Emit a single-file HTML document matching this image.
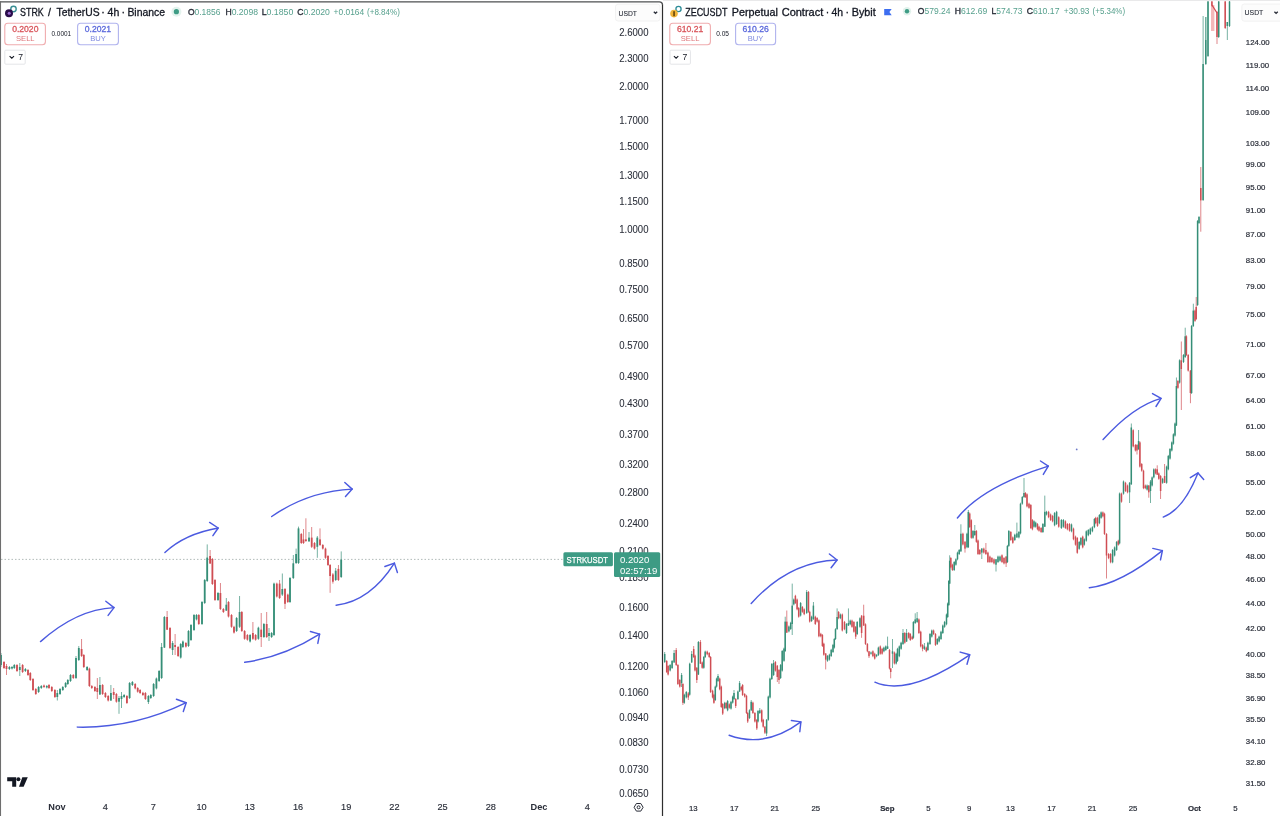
<!DOCTYPE html>
<html><head><meta charset="utf-8">
<title>STRK / ZEC charts</title>
<style>
html,body{margin:0;padding:0;background:#ffffff;width:1280px;height:816px;overflow:hidden;}
svg{position:absolute;left:0;top:0;display:block;}
text{font-family:"Liberation Sans",Arial,sans-serif;}
</style></head><body>
<svg width="1280" height="816" viewBox="0 0 1280 816">
<defs>
<clipPath id="clipL"><rect x="1" y="2" width="612" height="792"/></clipPath>
<clipPath id="clipR"><rect x="663" y="1" width="578" height="795"/></clipPath>
</defs>
<rect x="0" y="0" width="1280" height="816" fill="#ffffff"/>
<!-- right panel top strip -->
<rect x="663" y="0" width="617" height="1" fill="#e9e9ea"/>

<!-- ===== LEFT CHART ===== -->
<!-- last price dotted line -->
<line x1="1" y1="559.4" x2="563" y2="559.4" stroke="#a9b4b1" stroke-width="0.9" stroke-dasharray="1.5 2"/>
<g clip-path="url(#clipL)">
<rect x="0.55" y="653.00" width="0.9" height="14.00" fill="#358e77" opacity="0.75"/>
<rect x="0.10" y="655.00" width="1.8" height="10.00" fill="#358e77"/>
<rect x="3.55" y="661.00" width="0.9" height="8.00" fill="#cf4d53" opacity="0.75"/>
<rect x="3.10" y="662.00" width="1.8" height="6.00" fill="#cf4d53"/>
<rect x="6.05" y="664.00" width="0.9" height="11.00" fill="#cf4d53" opacity="0.75"/>
<rect x="5.60" y="666.00" width="1.8" height="3.00" fill="#cf4d53"/>
<rect x="8.95" y="666.00" width="0.9" height="4.00" fill="#358e77" opacity="0.75"/>
<rect x="8.50" y="667.00" width="1.8" height="2.00" fill="#358e77"/>
<rect x="11.55" y="666.00" width="0.9" height="3.50" fill="#358e77" opacity="0.75"/>
<rect x="11.10" y="667.00" width="1.8" height="1.50" fill="#358e77"/>
<rect x="13.85" y="664.00" width="0.9" height="5.00" fill="#358e77" opacity="0.75"/>
<rect x="13.40" y="665.00" width="1.8" height="3.00" fill="#358e77"/>
<rect x="16.55" y="664.00" width="0.9" height="8.00" fill="#cf4d53" opacity="0.75"/>
<rect x="16.10" y="665.00" width="1.8" height="6.00" fill="#cf4d53"/>
<rect x="19.35" y="663.00" width="0.9" height="13.00" fill="#358e77" opacity="0.75"/>
<rect x="18.90" y="667.00" width="1.8" height="3.00" fill="#358e77"/>
<rect x="22.15" y="664.00" width="0.9" height="9.00" fill="#cf4d53" opacity="0.75"/>
<rect x="21.70" y="665.00" width="1.8" height="7.00" fill="#cf4d53"/>
<rect x="24.95" y="668.00" width="0.9" height="4.00" fill="#358e77" opacity="0.75"/>
<rect x="24.50" y="669.00" width="1.8" height="2.00" fill="#358e77"/>
<rect x="27.55" y="669.00" width="0.9" height="7.00" fill="#cf4d53" opacity="0.75"/>
<rect x="27.10" y="670.00" width="1.8" height="5.00" fill="#cf4d53"/>
<rect x="29.85" y="672.00" width="0.9" height="9.00" fill="#cf4d53" opacity="0.75"/>
<rect x="29.40" y="673.00" width="1.8" height="7.00" fill="#cf4d53"/>
<rect x="32.55" y="678.00" width="0.9" height="13.00" fill="#cf4d53" opacity="0.75"/>
<rect x="32.10" y="679.00" width="1.8" height="11.00" fill="#cf4d53"/>
<rect x="35.35" y="688.00" width="0.9" height="7.00" fill="#cf4d53" opacity="0.75"/>
<rect x="34.90" y="689.00" width="1.8" height="5.00" fill="#cf4d53"/>
<rect x="38.15" y="686.00" width="0.9" height="7.00" fill="#358e77" opacity="0.75"/>
<rect x="37.70" y="687.00" width="1.8" height="5.00" fill="#358e77"/>
<rect x="40.85" y="685.00" width="0.9" height="4.00" fill="#358e77" opacity="0.75"/>
<rect x="40.40" y="686.00" width="1.8" height="2.00" fill="#358e77"/>
<rect x="43.55" y="684.50" width="0.9" height="3.50" fill="#cf4d53" opacity="0.75"/>
<rect x="43.10" y="685.50" width="1.8" height="1.50" fill="#cf4d53"/>
<rect x="46.35" y="685.00" width="0.9" height="3.50" fill="#358e77" opacity="0.75"/>
<rect x="45.90" y="686.00" width="1.8" height="1.50" fill="#358e77"/>
<rect x="48.55" y="684.00" width="0.9" height="5.00" fill="#cf4d53" opacity="0.75"/>
<rect x="48.10" y="685.00" width="1.8" height="3.00" fill="#cf4d53"/>
<rect x="51.35" y="686.00" width="0.9" height="6.00" fill="#cf4d53" opacity="0.75"/>
<rect x="50.90" y="687.00" width="1.8" height="4.00" fill="#cf4d53"/>
<rect x="54.45" y="689.00" width="0.9" height="9.00" fill="#cf4d53" opacity="0.75"/>
<rect x="54.00" y="690.00" width="1.8" height="7.00" fill="#cf4d53"/>
<rect x="56.85" y="690.00" width="0.9" height="10.50" fill="#358e77" opacity="0.75"/>
<rect x="56.40" y="693.00" width="1.8" height="4.00" fill="#358e77"/>
<rect x="59.55" y="688.00" width="0.9" height="7.00" fill="#358e77" opacity="0.75"/>
<rect x="59.10" y="689.00" width="1.8" height="5.00" fill="#358e77"/>
<rect x="62.35" y="686.00" width="0.9" height="5.00" fill="#358e77" opacity="0.75"/>
<rect x="61.90" y="687.00" width="1.8" height="3.00" fill="#358e77"/>
<rect x="65.15" y="682.00" width="0.9" height="6.00" fill="#358e77" opacity="0.75"/>
<rect x="64.70" y="683.00" width="1.8" height="4.00" fill="#358e77"/>
<rect x="67.35" y="679.00" width="0.9" height="6.00" fill="#358e77" opacity="0.75"/>
<rect x="66.90" y="680.00" width="1.8" height="4.00" fill="#358e77"/>
<rect x="70.05" y="674.00" width="0.9" height="8.00" fill="#358e77" opacity="0.75"/>
<rect x="69.60" y="675.00" width="1.8" height="6.00" fill="#358e77"/>
<rect x="72.85" y="674.00" width="0.9" height="5.00" fill="#cf4d53" opacity="0.75"/>
<rect x="72.40" y="675.00" width="1.8" height="3.00" fill="#cf4d53"/>
<rect x="75.55" y="656.00" width="0.9" height="23.00" fill="#358e77" opacity="0.75"/>
<rect x="75.10" y="658.00" width="1.8" height="20.00" fill="#358e77"/>
<rect x="78.35" y="646.00" width="0.9" height="15.00" fill="#358e77" opacity="0.75"/>
<rect x="77.90" y="648.00" width="1.8" height="12.00" fill="#358e77"/>
<rect x="81.15" y="639.00" width="0.9" height="18.00" fill="#cf4d53" opacity="0.75"/>
<rect x="80.70" y="649.00" width="1.8" height="7.00" fill="#cf4d53"/>
<rect x="83.35" y="654.00" width="0.9" height="14.00" fill="#cf4d53" opacity="0.75"/>
<rect x="82.90" y="655.00" width="1.8" height="12.00" fill="#cf4d53"/>
<rect x="86.65" y="666.00" width="0.9" height="5.00" fill="#358e77" opacity="0.75"/>
<rect x="86.20" y="667.00" width="1.8" height="3.00" fill="#358e77"/>
<rect x="88.95" y="667.60" width="0.9" height="19.40" fill="#cf4d53" opacity="0.75"/>
<rect x="88.50" y="668.60" width="1.8" height="17.40" fill="#cf4d53"/>
<rect x="91.35" y="685.00" width="0.9" height="4.00" fill="#cf4d53" opacity="0.75"/>
<rect x="90.90" y="686.00" width="1.8" height="2.00" fill="#cf4d53"/>
<rect x="94.45" y="686.00" width="0.9" height="6.00" fill="#cf4d53" opacity="0.75"/>
<rect x="94.00" y="687.00" width="1.8" height="4.00" fill="#cf4d53"/>
<rect x="96.85" y="678.00" width="0.9" height="21.00" fill="#cf4d53" opacity="0.75"/>
<rect x="96.40" y="688.00" width="1.8" height="4.00" fill="#cf4d53"/>
<rect x="99.45" y="677.00" width="0.9" height="18.00" fill="#358e77" opacity="0.75"/>
<rect x="99.00" y="685.00" width="1.8" height="9.50" fill="#358e77"/>
<rect x="102.15" y="684.00" width="0.9" height="11.00" fill="#cf4d53" opacity="0.75"/>
<rect x="101.70" y="685.00" width="1.8" height="9.00" fill="#cf4d53"/>
<rect x="104.95" y="692.00" width="0.9" height="6.00" fill="#cf4d53" opacity="0.75"/>
<rect x="104.50" y="693.00" width="1.8" height="4.00" fill="#cf4d53"/>
<rect x="107.75" y="695.00" width="0.9" height="6.50" fill="#cf4d53" opacity="0.75"/>
<rect x="107.30" y="696.00" width="1.8" height="4.50" fill="#cf4d53"/>
<rect x="110.45" y="685.00" width="0.9" height="16.00" fill="#358e77" opacity="0.75"/>
<rect x="110.00" y="693.00" width="1.8" height="7.50" fill="#358e77"/>
<rect x="113.25" y="688.00" width="0.9" height="11.00" fill="#cf4d53" opacity="0.75"/>
<rect x="112.80" y="692.00" width="1.8" height="3.00" fill="#cf4d53"/>
<rect x="115.95" y="693.00" width="0.9" height="9.70" fill="#cf4d53" opacity="0.75"/>
<rect x="115.50" y="694.00" width="1.8" height="7.70" fill="#cf4d53"/>
<rect x="118.55" y="696.00" width="0.9" height="17.80" fill="#358e77" opacity="0.75"/>
<rect x="118.10" y="698.00" width="1.8" height="3.70" fill="#358e77"/>
<rect x="121.05" y="692.00" width="0.9" height="16.00" fill="#358e77" opacity="0.75"/>
<rect x="120.60" y="696.00" width="1.8" height="3.00" fill="#358e77"/>
<rect x="123.65" y="694.00" width="0.9" height="4.00" fill="#358e77" opacity="0.75"/>
<rect x="123.20" y="695.00" width="1.8" height="2.00" fill="#358e77"/>
<rect x="126.45" y="695.00" width="0.9" height="9.00" fill="#cf4d53" opacity="0.75"/>
<rect x="126.00" y="696.00" width="1.8" height="7.00" fill="#cf4d53"/>
<rect x="129.15" y="682.00" width="0.9" height="17.00" fill="#358e77" opacity="0.75"/>
<rect x="128.70" y="683.00" width="1.8" height="15.00" fill="#358e77"/>
<rect x="131.95" y="681.00" width="0.9" height="5.00" fill="#358e77" opacity="0.75"/>
<rect x="131.50" y="682.00" width="1.8" height="3.00" fill="#358e77"/>
<rect x="134.75" y="683.00" width="0.9" height="6.40" fill="#cf4d53" opacity="0.75"/>
<rect x="134.30" y="684.00" width="1.8" height="4.40" fill="#cf4d53"/>
<rect x="137.25" y="687.00" width="0.9" height="5.70" fill="#cf4d53" opacity="0.75"/>
<rect x="136.80" y="688.00" width="1.8" height="3.70" fill="#cf4d53"/>
<rect x="139.65" y="689.00" width="0.9" height="5.00" fill="#cf4d53" opacity="0.75"/>
<rect x="139.20" y="690.00" width="1.8" height="3.00" fill="#cf4d53"/>
<rect x="142.45" y="691.80" width="0.9" height="4.20" fill="#cf4d53" opacity="0.75"/>
<rect x="142.00" y="692.80" width="1.8" height="2.20" fill="#cf4d53"/>
<rect x="144.95" y="692.00" width="0.9" height="8.00" fill="#cf4d53" opacity="0.75"/>
<rect x="144.50" y="693.00" width="1.8" height="6.00" fill="#cf4d53"/>
<rect x="147.95" y="695.00" width="0.9" height="9.00" fill="#358e77" opacity="0.75"/>
<rect x="147.50" y="696.00" width="1.8" height="6.00" fill="#358e77"/>
<rect x="150.35" y="694.00" width="0.9" height="5.00" fill="#358e77" opacity="0.75"/>
<rect x="149.90" y="695.00" width="1.8" height="3.00" fill="#358e77"/>
<rect x="153.15" y="683.00" width="0.9" height="14.00" fill="#358e77" opacity="0.75"/>
<rect x="152.70" y="684.00" width="1.8" height="12.00" fill="#358e77"/>
<rect x="155.95" y="677.50" width="0.9" height="11.90" fill="#358e77" opacity="0.75"/>
<rect x="155.50" y="678.50" width="1.8" height="9.90" fill="#358e77"/>
<rect x="158.65" y="670.00" width="0.9" height="12.00" fill="#358e77" opacity="0.75"/>
<rect x="158.20" y="671.00" width="1.8" height="10.00" fill="#358e77"/>
<rect x="161.15" y="643.00" width="0.9" height="36.00" fill="#358e77" opacity="0.75"/>
<rect x="160.70" y="647.00" width="1.8" height="31.00" fill="#358e77"/>
<rect x="163.95" y="616.00" width="0.9" height="32.00" fill="#358e77" opacity="0.75"/>
<rect x="163.50" y="617.00" width="1.8" height="30.60" fill="#358e77"/>
<rect x="166.65" y="611.00" width="0.9" height="19.00" fill="#cf4d53" opacity="0.75"/>
<rect x="166.20" y="617.00" width="1.8" height="12.70" fill="#cf4d53"/>
<rect x="169.55" y="627.00" width="0.9" height="22.00" fill="#cf4d53" opacity="0.75"/>
<rect x="169.10" y="628.00" width="1.8" height="20.00" fill="#cf4d53"/>
<rect x="172.15" y="641.00" width="0.9" height="14.00" fill="#358e77" opacity="0.75"/>
<rect x="171.70" y="643.00" width="1.8" height="7.00" fill="#358e77"/>
<rect x="174.65" y="634.00" width="0.9" height="21.00" fill="#cf4d53" opacity="0.75"/>
<rect x="174.20" y="645.00" width="1.8" height="2.00" fill="#cf4d53"/>
<rect x="177.65" y="646.00" width="0.9" height="11.00" fill="#cf4d53" opacity="0.75"/>
<rect x="177.20" y="647.00" width="1.8" height="9.00" fill="#cf4d53"/>
<rect x="180.25" y="643.00" width="0.9" height="15.60" fill="#358e77" opacity="0.75"/>
<rect x="179.80" y="644.00" width="1.8" height="13.60" fill="#358e77"/>
<rect x="182.45" y="640.50" width="0.9" height="7.50" fill="#358e77" opacity="0.75"/>
<rect x="182.00" y="641.50" width="1.8" height="5.50" fill="#358e77"/>
<rect x="185.45" y="642.00" width="0.9" height="5.60" fill="#cf4d53" opacity="0.75"/>
<rect x="185.00" y="643.00" width="1.8" height="3.60" fill="#cf4d53"/>
<rect x="188.05" y="630.00" width="0.9" height="17.00" fill="#358e77" opacity="0.75"/>
<rect x="187.60" y="631.00" width="1.8" height="15.00" fill="#358e77"/>
<rect x="190.55" y="624.00" width="0.9" height="17.00" fill="#358e77" opacity="0.75"/>
<rect x="190.10" y="625.00" width="1.8" height="15.00" fill="#358e77"/>
<rect x="193.55" y="614.00" width="0.9" height="17.00" fill="#358e77" opacity="0.75"/>
<rect x="193.10" y="615.00" width="1.8" height="15.00" fill="#358e77"/>
<rect x="196.05" y="614.00" width="0.9" height="6.40" fill="#358e77" opacity="0.75"/>
<rect x="195.60" y="615.00" width="1.8" height="4.40" fill="#358e77"/>
<rect x="198.35" y="614.00" width="0.9" height="11.00" fill="#cf4d53" opacity="0.75"/>
<rect x="197.90" y="615.00" width="1.8" height="9.00" fill="#cf4d53"/>
<rect x="201.55" y="601.00" width="0.9" height="24.00" fill="#358e77" opacity="0.75"/>
<rect x="201.10" y="602.00" width="1.8" height="22.00" fill="#358e77"/>
<rect x="204.25" y="579.00" width="0.9" height="25.00" fill="#358e77" opacity="0.75"/>
<rect x="203.80" y="580.00" width="1.8" height="23.00" fill="#358e77"/>
<rect x="206.75" y="544.40" width="0.9" height="37.60" fill="#358e77" opacity="0.75"/>
<rect x="206.30" y="557.60" width="1.8" height="23.40" fill="#358e77"/>
<rect x="209.65" y="550.00" width="0.9" height="14.00" fill="#cf4d53" opacity="0.75"/>
<rect x="209.20" y="556.00" width="1.8" height="7.50" fill="#cf4d53"/>
<rect x="211.95" y="558.00" width="0.9" height="27.00" fill="#cf4d53" opacity="0.75"/>
<rect x="211.50" y="559.00" width="1.8" height="25.00" fill="#cf4d53"/>
<rect x="214.55" y="579.00" width="0.9" height="22.00" fill="#cf4d53" opacity="0.75"/>
<rect x="214.10" y="580.00" width="1.8" height="20.00" fill="#cf4d53"/>
<rect x="217.55" y="592.00" width="0.9" height="9.00" fill="#358e77" opacity="0.75"/>
<rect x="217.10" y="593.00" width="1.8" height="7.00" fill="#358e77"/>
<rect x="219.95" y="583.00" width="0.9" height="27.00" fill="#cf4d53" opacity="0.75"/>
<rect x="219.50" y="593.00" width="1.8" height="16.00" fill="#cf4d53"/>
<rect x="222.95" y="608.00" width="0.9" height="5.00" fill="#cf4d53" opacity="0.75"/>
<rect x="222.50" y="609.00" width="1.8" height="3.00" fill="#cf4d53"/>
<rect x="225.85" y="598.00" width="0.9" height="13.00" fill="#358e77" opacity="0.75"/>
<rect x="225.40" y="604.70" width="1.8" height="5.90" fill="#358e77"/>
<rect x="228.05" y="601.00" width="0.9" height="16.50" fill="#cf4d53" opacity="0.75"/>
<rect x="227.60" y="602.00" width="1.8" height="14.50" fill="#cf4d53"/>
<rect x="231.05" y="614.00" width="0.9" height="13.80" fill="#cf4d53" opacity="0.75"/>
<rect x="230.60" y="615.00" width="1.8" height="11.80" fill="#cf4d53"/>
<rect x="233.55" y="625.80" width="0.9" height="7.80" fill="#cf4d53" opacity="0.75"/>
<rect x="233.10" y="626.80" width="1.8" height="5.80" fill="#cf4d53"/>
<rect x="236.15" y="617.00" width="0.9" height="15.00" fill="#358e77" opacity="0.75"/>
<rect x="235.70" y="618.00" width="1.8" height="13.00" fill="#358e77"/>
<rect x="239.15" y="596.00" width="0.9" height="32.00" fill="#358e77" opacity="0.75"/>
<rect x="238.70" y="612.00" width="1.8" height="14.80" fill="#358e77"/>
<rect x="241.35" y="611.00" width="0.9" height="21.00" fill="#cf4d53" opacity="0.75"/>
<rect x="240.90" y="612.00" width="1.8" height="19.00" fill="#cf4d53"/>
<rect x="244.15" y="630.00" width="0.9" height="9.80" fill="#cf4d53" opacity="0.75"/>
<rect x="243.70" y="631.00" width="1.8" height="7.80" fill="#cf4d53"/>
<rect x="246.95" y="634.00" width="0.9" height="6.70" fill="#cf4d53" opacity="0.75"/>
<rect x="246.50" y="635.00" width="1.8" height="4.70" fill="#cf4d53"/>
<rect x="249.65" y="634.00" width="0.9" height="8.50" fill="#358e77" opacity="0.75"/>
<rect x="249.20" y="635.00" width="1.8" height="6.50" fill="#358e77"/>
<rect x="252.45" y="622.00" width="0.9" height="18.00" fill="#cf4d53" opacity="0.75"/>
<rect x="252.00" y="633.00" width="1.8" height="5.80" fill="#cf4d53"/>
<rect x="255.15" y="634.00" width="0.9" height="6.70" fill="#cf4d53" opacity="0.75"/>
<rect x="254.70" y="635.00" width="1.8" height="4.70" fill="#cf4d53"/>
<rect x="257.95" y="626.70" width="0.9" height="13.10" fill="#358e77" opacity="0.75"/>
<rect x="257.50" y="627.70" width="1.8" height="11.10" fill="#358e77"/>
<rect x="260.75" y="613.00" width="0.9" height="34.00" fill="#cf4d53" opacity="0.75"/>
<rect x="260.30" y="629.60" width="1.8" height="7.40" fill="#cf4d53"/>
<rect x="263.45" y="623.00" width="0.9" height="15.00" fill="#358e77" opacity="0.75"/>
<rect x="263.00" y="624.00" width="1.8" height="13.00" fill="#358e77"/>
<rect x="266.25" y="612.00" width="0.9" height="26.00" fill="#cf4d53" opacity="0.75"/>
<rect x="265.80" y="624.00" width="1.8" height="13.00" fill="#cf4d53"/>
<rect x="268.55" y="628.00" width="0.9" height="13.00" fill="#358e77" opacity="0.75"/>
<rect x="268.10" y="633.00" width="1.8" height="3.00" fill="#358e77"/>
<rect x="271.15" y="632.00" width="0.9" height="6.00" fill="#358e77" opacity="0.75"/>
<rect x="270.70" y="633.00" width="1.8" height="4.00" fill="#358e77"/>
<rect x="273.55" y="582.60" width="0.9" height="53.40" fill="#358e77" opacity="0.75"/>
<rect x="273.10" y="583.60" width="1.8" height="51.40" fill="#358e77"/>
<rect x="276.35" y="582.60" width="0.9" height="14.90" fill="#cf4d53" opacity="0.75"/>
<rect x="275.90" y="583.60" width="1.8" height="12.90" fill="#cf4d53"/>
<rect x="279.15" y="580.00" width="0.9" height="19.00" fill="#cf4d53" opacity="0.75"/>
<rect x="278.70" y="583.60" width="1.8" height="14.40" fill="#cf4d53"/>
<rect x="281.85" y="573.50" width="0.9" height="22.50" fill="#358e77" opacity="0.75"/>
<rect x="281.40" y="589.00" width="1.8" height="5.60" fill="#358e77"/>
<rect x="284.55" y="588.00" width="0.9" height="21.00" fill="#cf4d53" opacity="0.75"/>
<rect x="284.10" y="589.00" width="1.8" height="14.80" fill="#cf4d53"/>
<rect x="287.35" y="593.60" width="0.9" height="9.40" fill="#cf4d53" opacity="0.75"/>
<rect x="286.90" y="594.60" width="1.8" height="7.40" fill="#cf4d53"/>
<rect x="289.55" y="577.00" width="0.9" height="26.00" fill="#358e77" opacity="0.75"/>
<rect x="289.10" y="578.00" width="1.8" height="24.00" fill="#358e77"/>
<rect x="292.85" y="555.00" width="0.9" height="24.00" fill="#358e77" opacity="0.75"/>
<rect x="292.40" y="563.30" width="1.8" height="14.70" fill="#358e77"/>
<rect x="295.65" y="548.60" width="0.9" height="15.40" fill="#358e77" opacity="0.75"/>
<rect x="295.20" y="554.00" width="1.8" height="9.00" fill="#358e77"/>
<rect x="298.05" y="526.60" width="0.9" height="37.40" fill="#358e77" opacity="0.75"/>
<rect x="297.60" y="528.40" width="1.8" height="34.60" fill="#358e77"/>
<rect x="300.85" y="533.00" width="0.9" height="11.00" fill="#cf4d53" opacity="0.75"/>
<rect x="300.40" y="534.00" width="1.8" height="9.00" fill="#cf4d53"/>
<rect x="303.05" y="529.00" width="0.9" height="15.00" fill="#cf4d53" opacity="0.75"/>
<rect x="302.60" y="539.40" width="1.8" height="3.60" fill="#cf4d53"/>
<rect x="305.45" y="518.30" width="0.9" height="23.70" fill="#cf4d53" opacity="0.75"/>
<rect x="305.00" y="539.40" width="1.8" height="1.60" fill="#cf4d53"/>
<rect x="308.55" y="532.00" width="0.9" height="10.00" fill="#358e77" opacity="0.75"/>
<rect x="308.10" y="537.60" width="1.8" height="3.70" fill="#358e77"/>
<rect x="311.25" y="527.00" width="0.9" height="21.00" fill="#cf4d53" opacity="0.75"/>
<rect x="310.80" y="537.60" width="1.8" height="9.20" fill="#cf4d53"/>
<rect x="314.05" y="542.00" width="0.9" height="7.60" fill="#cf4d53" opacity="0.75"/>
<rect x="313.60" y="543.00" width="1.8" height="5.60" fill="#cf4d53"/>
<rect x="316.85" y="536.00" width="0.9" height="21.80" fill="#358e77" opacity="0.75"/>
<rect x="316.40" y="537.60" width="1.8" height="9.20" fill="#358e77"/>
<rect x="319.55" y="528.40" width="0.9" height="17.60" fill="#cf4d53" opacity="0.75"/>
<rect x="319.10" y="539.40" width="1.8" height="5.60" fill="#cf4d53"/>
<rect x="322.35" y="544.00" width="0.9" height="5.60" fill="#cf4d53" opacity="0.75"/>
<rect x="321.90" y="545.00" width="1.8" height="3.60" fill="#cf4d53"/>
<rect x="325.05" y="547.60" width="0.9" height="11.20" fill="#cf4d53" opacity="0.75"/>
<rect x="324.60" y="548.60" width="1.8" height="9.20" fill="#cf4d53"/>
<rect x="327.55" y="555.00" width="0.9" height="11.00" fill="#cf4d53" opacity="0.75"/>
<rect x="327.10" y="556.00" width="1.8" height="9.00" fill="#cf4d53"/>
<rect x="329.65" y="564.00" width="0.9" height="28.80" fill="#cf4d53" opacity="0.75"/>
<rect x="329.20" y="565.00" width="1.8" height="11.00" fill="#cf4d53"/>
<rect x="332.45" y="573.00" width="0.9" height="10.60" fill="#cf4d53" opacity="0.75"/>
<rect x="332.00" y="574.40" width="1.8" height="7.30" fill="#cf4d53"/>
<rect x="335.25" y="568.00" width="0.9" height="13.00" fill="#358e77" opacity="0.75"/>
<rect x="334.80" y="570.70" width="1.8" height="9.30" fill="#358e77"/>
<rect x="337.95" y="565.00" width="0.9" height="16.00" fill="#cf4d53" opacity="0.75"/>
<rect x="337.50" y="568.90" width="1.8" height="11.10" fill="#cf4d53"/>
<rect x="340.75" y="551.40" width="0.9" height="26.60" fill="#358e77" opacity="0.75"/>
<rect x="340.30" y="559.70" width="1.8" height="17.30" fill="#358e77"/>
</g>
<!-- left price axis -->
<g font-size="10" fill="#2a2e39" stroke="#2a2e39" stroke-width="0.08">
<text x="619.3" y="36.40" textLength="29.2" lengthAdjust="spacingAndGlyphs">2.6000</text>
<text x="619.3" y="61.67" textLength="29.2" lengthAdjust="spacingAndGlyphs">2.3000</text>
<text x="619.3" y="90.47" textLength="29.2" lengthAdjust="spacingAndGlyphs">2.0000</text>
<text x="619.3" y="123.97" textLength="29.2" lengthAdjust="spacingAndGlyphs">1.7000</text>
<text x="619.3" y="149.76" textLength="29.2" lengthAdjust="spacingAndGlyphs">1.5000</text>
<text x="619.3" y="179.26" textLength="29.2" lengthAdjust="spacingAndGlyphs">1.3000</text>
<text x="619.3" y="204.53" textLength="29.2" lengthAdjust="spacingAndGlyphs">1.1500</text>
<text x="619.3" y="233.33" textLength="29.2" lengthAdjust="spacingAndGlyphs">1.0000</text>
<text x="619.3" y="266.83" textLength="29.2" lengthAdjust="spacingAndGlyphs">0.8500</text>
<text x="619.3" y="292.62" textLength="29.2" lengthAdjust="spacingAndGlyphs">0.7500</text>
<text x="619.3" y="322.12" textLength="29.2" lengthAdjust="spacingAndGlyphs">0.6500</text>
<text x="619.3" y="349.18" textLength="29.2" lengthAdjust="spacingAndGlyphs">0.5700</text>
<text x="619.3" y="380.35" textLength="29.2" lengthAdjust="spacingAndGlyphs">0.4900</text>
<text x="619.3" y="407.27" textLength="29.2" lengthAdjust="spacingAndGlyphs">0.4300</text>
<text x="619.3" y="438.25" textLength="29.2" lengthAdjust="spacingAndGlyphs">0.3700</text>
<text x="619.3" y="468.17" textLength="29.2" lengthAdjust="spacingAndGlyphs">0.3200</text>
<text x="619.3" y="495.69" textLength="29.2" lengthAdjust="spacingAndGlyphs">0.2800</text>
<text x="619.3" y="527.46" textLength="29.2" lengthAdjust="spacingAndGlyphs">0.2400</text>
<text x="619.3" y="554.98" textLength="29.2" lengthAdjust="spacingAndGlyphs">0.2100</text>
<text x="619.3" y="581.10" textLength="29.2" lengthAdjust="spacingAndGlyphs">0.1850</text>
<text x="619.3" y="611.03" textLength="29.2" lengthAdjust="spacingAndGlyphs">0.1600</text>
<text x="619.3" y="638.55" textLength="29.2" lengthAdjust="spacingAndGlyphs">0.1400</text>
<text x="619.3" y="670.32" textLength="29.2" lengthAdjust="spacingAndGlyphs">0.1200</text>
<text x="619.3" y="695.88" textLength="29.2" lengthAdjust="spacingAndGlyphs">0.1060</text>
<text x="619.3" y="720.65" textLength="29.2" lengthAdjust="spacingAndGlyphs">0.0940</text>
<text x="619.3" y="746.30" textLength="29.2" lengthAdjust="spacingAndGlyphs">0.0830</text>
<text x="619.3" y="772.76" textLength="29.2" lengthAdjust="spacingAndGlyphs">0.0730</text>
<text x="619.3" y="796.68" textLength="29.2" lengthAdjust="spacingAndGlyphs">0.0650</text>
</g>
<!-- left time axis -->
<g font-size="9.2" fill="#2a2e39" stroke="#2a2e39" stroke-width="0.15">
<text x="57" y="809.9" text-anchor="middle" font-weight="bold" stroke-width="0">Nov</text>
<text x="105.2" y="809.9" text-anchor="middle">4</text>
<text x="153.4" y="809.9" text-anchor="middle">7</text>
<text x="201.6" y="809.9" text-anchor="middle">10</text>
<text x="249.8" y="809.9" text-anchor="middle">13</text>
<text x="298" y="809.9" text-anchor="middle">16</text>
<text x="346.2" y="809.9" text-anchor="middle">19</text>
<text x="394.4" y="809.9" text-anchor="middle">22</text>
<text x="442.6" y="809.9" text-anchor="middle">25</text>
<text x="490.8" y="809.9" text-anchor="middle">28</text>
<text x="539" y="809.9" text-anchor="middle" font-weight="bold" stroke-width="0">Dec</text>
<text x="587.2" y="809.9" text-anchor="middle">4</text>
</g>

<!-- ===== RIGHT CHART ===== -->
<g clip-path="url(#clipR)">
<rect x="1211" y="5" width="3.4" height="26" fill="#f4b8ba"/>
<line x1="1212" y1="5" x2="1217" y2="13" stroke="#d2474d" stroke-width="1.2"/>
<rect x="1205" y="17" width="1.6" height="23" fill="#a9d3c6"/>
<rect x="664.25" y="652.00" width="0.9" height="11.00" fill="#358e77" opacity="0.75"/>
<rect x="663.95" y="654.00" width="1.5" height="8.00" fill="#358e77"/>
<rect x="666.25" y="660.00" width="0.9" height="13.00" fill="#cf4d53" opacity="0.75"/>
<rect x="665.95" y="661.00" width="1.5" height="11.00" fill="#cf4d53"/>
<rect x="667.65" y="665.00" width="0.9" height="10.50" fill="#cf4d53" opacity="0.75"/>
<rect x="667.35" y="666.00" width="1.5" height="8.50" fill="#cf4d53"/>
<rect x="669.65" y="664.00" width="0.9" height="7.50" fill="#358e77" opacity="0.75"/>
<rect x="669.35" y="665.00" width="1.5" height="5.50" fill="#358e77"/>
<rect x="671.65" y="660.00" width="0.9" height="9.00" fill="#358e77" opacity="0.75"/>
<rect x="671.35" y="661.00" width="1.5" height="7.00" fill="#358e77"/>
<rect x="673.65" y="650.00" width="0.9" height="13.00" fill="#358e77" opacity="0.75"/>
<rect x="673.35" y="653.00" width="1.5" height="9.40" fill="#358e77"/>
<rect x="675.75" y="648.00" width="0.9" height="18.00" fill="#cf4d53" opacity="0.75"/>
<rect x="675.45" y="650.00" width="1.5" height="15.00" fill="#cf4d53"/>
<rect x="677.45" y="664.00" width="0.9" height="21.00" fill="#cf4d53" opacity="0.75"/>
<rect x="677.15" y="665.00" width="1.5" height="19.00" fill="#cf4d53"/>
<rect x="679.35" y="679.00" width="0.9" height="8.60" fill="#cf4d53" opacity="0.75"/>
<rect x="679.05" y="680.00" width="1.5" height="6.60" fill="#cf4d53"/>
<rect x="681.15" y="673.00" width="0.9" height="14.00" fill="#358e77" opacity="0.75"/>
<rect x="680.85" y="675.00" width="1.5" height="8.00" fill="#358e77"/>
<rect x="682.45" y="683.00" width="0.9" height="22.00" fill="#cf4d53" opacity="0.75"/>
<rect x="682.15" y="684.00" width="1.5" height="18.80" fill="#cf4d53"/>
<rect x="683.85" y="693.70" width="0.9" height="10.10" fill="#358e77" opacity="0.75"/>
<rect x="683.55" y="694.70" width="1.5" height="8.10" fill="#358e77"/>
<rect x="685.85" y="691.00" width="0.9" height="7.40" fill="#358e77" opacity="0.75"/>
<rect x="685.55" y="692.00" width="1.5" height="5.40" fill="#358e77"/>
<rect x="687.85" y="692.00" width="0.9" height="8.00" fill="#cf4d53" opacity="0.75"/>
<rect x="687.55" y="693.40" width="1.5" height="4.00" fill="#cf4d53"/>
<rect x="689.25" y="662.70" width="0.9" height="33.00" fill="#358e77" opacity="0.75"/>
<rect x="688.95" y="663.70" width="1.5" height="31.00" fill="#358e77"/>
<rect x="691.25" y="651.00" width="0.9" height="12.00" fill="#358e77" opacity="0.75"/>
<rect x="690.95" y="654.00" width="1.5" height="8.40" fill="#358e77"/>
<rect x="693.25" y="646.00" width="0.9" height="12.00" fill="#cf4d53" opacity="0.75"/>
<rect x="692.95" y="649.00" width="1.5" height="8.00" fill="#cf4d53"/>
<rect x="694.55" y="654.60" width="0.9" height="16.90" fill="#cf4d53" opacity="0.75"/>
<rect x="694.25" y="655.60" width="1.5" height="14.90" fill="#cf4d53"/>
<rect x="696.35" y="667.00" width="0.9" height="16.00" fill="#cf4d53" opacity="0.75"/>
<rect x="696.05" y="667.80" width="1.5" height="12.20" fill="#cf4d53"/>
<rect x="697.95" y="641.00" width="0.9" height="34.00" fill="#358e77" opacity="0.75"/>
<rect x="697.65" y="642.00" width="1.5" height="32.50" fill="#358e77"/>
<rect x="699.95" y="640.00" width="0.9" height="24.00" fill="#cf4d53" opacity="0.75"/>
<rect x="699.65" y="642.00" width="1.5" height="21.70" fill="#cf4d53"/>
<rect x="701.75" y="661.40" width="0.9" height="7.40" fill="#cf4d53" opacity="0.75"/>
<rect x="701.45" y="662.40" width="1.5" height="5.40" fill="#cf4d53"/>
<rect x="703.35" y="656.00" width="0.9" height="12.80" fill="#358e77" opacity="0.75"/>
<rect x="703.05" y="657.00" width="1.5" height="10.80" fill="#358e77"/>
<rect x="704.75" y="650.60" width="0.9" height="7.40" fill="#358e77" opacity="0.75"/>
<rect x="704.45" y="651.60" width="1.5" height="5.40" fill="#358e77"/>
<rect x="706.75" y="650.60" width="0.9" height="4.70" fill="#cf4d53" opacity="0.75"/>
<rect x="706.45" y="651.60" width="1.5" height="2.70" fill="#cf4d53"/>
<rect x="708.75" y="652.00" width="0.9" height="6.00" fill="#cf4d53" opacity="0.75"/>
<rect x="708.45" y="653.00" width="1.5" height="4.00" fill="#cf4d53"/>
<rect x="710.15" y="656.00" width="0.9" height="37.00" fill="#cf4d53" opacity="0.75"/>
<rect x="709.85" y="657.00" width="1.5" height="35.00" fill="#cf4d53"/>
<rect x="712.15" y="689.70" width="0.9" height="8.70" fill="#cf4d53" opacity="0.75"/>
<rect x="711.85" y="690.70" width="1.5" height="6.70" fill="#cf4d53"/>
<rect x="713.45" y="693.70" width="0.9" height="10.10" fill="#cf4d53" opacity="0.75"/>
<rect x="713.15" y="694.70" width="1.5" height="8.10" fill="#cf4d53"/>
<rect x="714.85" y="685.60" width="0.9" height="15.40" fill="#358e77" opacity="0.75"/>
<rect x="714.55" y="686.60" width="1.5" height="13.40" fill="#358e77"/>
<rect x="716.15" y="677.60" width="0.9" height="10.00" fill="#358e77" opacity="0.75"/>
<rect x="715.85" y="678.60" width="1.5" height="8.00" fill="#358e77"/>
<rect x="717.55" y="674.00" width="0.9" height="8.00" fill="#358e77" opacity="0.75"/>
<rect x="717.25" y="676.00" width="1.5" height="5.00" fill="#358e77"/>
<rect x="719.25" y="677.60" width="0.9" height="12.70" fill="#cf4d53" opacity="0.75"/>
<rect x="718.95" y="678.60" width="1.5" height="10.70" fill="#cf4d53"/>
<rect x="720.85" y="685.60" width="0.9" height="22.40" fill="#cf4d53" opacity="0.75"/>
<rect x="720.55" y="686.60" width="1.5" height="20.40" fill="#cf4d53"/>
<rect x="722.25" y="703.00" width="0.9" height="12.00" fill="#cf4d53" opacity="0.75"/>
<rect x="721.95" y="704.00" width="1.5" height="9.60" fill="#cf4d53"/>
<rect x="724.25" y="701.80" width="0.9" height="7.40" fill="#358e77" opacity="0.75"/>
<rect x="723.95" y="702.80" width="1.5" height="5.40" fill="#358e77"/>
<rect x="725.75" y="702.00" width="0.9" height="7.00" fill="#cf4d53" opacity="0.75"/>
<rect x="725.45" y="703.00" width="1.5" height="5.00" fill="#cf4d53"/>
<rect x="727.15" y="700.00" width="0.9" height="11.30" fill="#358e77" opacity="0.75"/>
<rect x="726.85" y="701.00" width="1.5" height="9.30" fill="#358e77"/>
<rect x="728.85" y="703.30" width="0.9" height="5.50" fill="#cf4d53" opacity="0.75"/>
<rect x="728.55" y="704.30" width="1.5" height="3.50" fill="#cf4d53"/>
<rect x="730.55" y="700.80" width="0.9" height="8.80" fill="#358e77" opacity="0.75"/>
<rect x="730.25" y="701.80" width="1.5" height="6.80" fill="#358e77"/>
<rect x="732.25" y="695.60" width="0.9" height="8.00" fill="#358e77" opacity="0.75"/>
<rect x="731.95" y="696.60" width="1.5" height="6.00" fill="#358e77"/>
<rect x="733.55" y="690.00" width="0.9" height="10.00" fill="#358e77" opacity="0.75"/>
<rect x="733.25" y="693.00" width="1.5" height="6.00" fill="#358e77"/>
<rect x="735.25" y="698.00" width="0.9" height="10.00" fill="#cf4d53" opacity="0.75"/>
<rect x="734.95" y="699.00" width="1.5" height="7.00" fill="#cf4d53"/>
<rect x="737.45" y="690.50" width="0.9" height="9.50" fill="#358e77" opacity="0.75"/>
<rect x="737.15" y="691.50" width="1.5" height="7.50" fill="#358e77"/>
<rect x="739.15" y="681.00" width="0.9" height="11.00" fill="#358e77" opacity="0.75"/>
<rect x="738.85" y="683.00" width="1.5" height="8.50" fill="#358e77"/>
<rect x="740.85" y="686.00" width="0.9" height="4.70" fill="#cf4d53" opacity="0.75"/>
<rect x="740.55" y="687.00" width="1.5" height="2.70" fill="#cf4d53"/>
<rect x="742.15" y="684.00" width="0.9" height="12.00" fill="#cf4d53" opacity="0.75"/>
<rect x="741.85" y="685.00" width="1.5" height="10.00" fill="#cf4d53"/>
<rect x="744.25" y="693.00" width="0.9" height="4.60" fill="#cf4d53" opacity="0.75"/>
<rect x="743.95" y="694.00" width="1.5" height="2.60" fill="#cf4d53"/>
<rect x="746.05" y="694.80" width="0.9" height="19.20" fill="#cf4d53" opacity="0.75"/>
<rect x="745.75" y="695.80" width="1.5" height="17.20" fill="#cf4d53"/>
<rect x="747.25" y="712.00" width="0.9" height="11.00" fill="#cf4d53" opacity="0.75"/>
<rect x="746.95" y="713.00" width="1.5" height="8.50" fill="#cf4d53"/>
<rect x="749.05" y="709.30" width="0.9" height="9.70" fill="#358e77" opacity="0.75"/>
<rect x="748.75" y="710.30" width="1.5" height="7.70" fill="#358e77"/>
<rect x="750.75" y="700.00" width="0.9" height="11.00" fill="#358e77" opacity="0.75"/>
<rect x="750.45" y="701.80" width="1.5" height="8.50" fill="#358e77"/>
<rect x="752.45" y="701.60" width="0.9" height="12.40" fill="#cf4d53" opacity="0.75"/>
<rect x="752.15" y="702.60" width="1.5" height="10.40" fill="#cf4d53"/>
<rect x="754.45" y="712.00" width="0.9" height="10.50" fill="#cf4d53" opacity="0.75"/>
<rect x="754.15" y="713.00" width="1.5" height="8.50" fill="#cf4d53"/>
<rect x="756.35" y="719.00" width="0.9" height="11.00" fill="#cf4d53" opacity="0.75"/>
<rect x="756.05" y="719.80" width="1.5" height="8.60" fill="#cf4d53"/>
<rect x="757.55" y="710.00" width="0.9" height="12.50" fill="#358e77" opacity="0.75"/>
<rect x="757.25" y="711.00" width="1.5" height="10.50" fill="#358e77"/>
<rect x="759.35" y="708.00" width="0.9" height="6.00" fill="#358e77" opacity="0.75"/>
<rect x="759.05" y="710.30" width="1.5" height="2.70" fill="#358e77"/>
<rect x="761.25" y="709.30" width="0.9" height="13.20" fill="#cf4d53" opacity="0.75"/>
<rect x="760.95" y="710.30" width="1.5" height="11.20" fill="#cf4d53"/>
<rect x="762.75" y="718.80" width="0.9" height="8.90" fill="#cf4d53" opacity="0.75"/>
<rect x="762.45" y="719.80" width="1.5" height="6.90" fill="#cf4d53"/>
<rect x="764.45" y="726.00" width="0.9" height="8.00" fill="#cf4d53" opacity="0.75"/>
<rect x="764.15" y="726.70" width="1.5" height="6.00" fill="#cf4d53"/>
<rect x="766.15" y="719.00" width="0.9" height="17.00" fill="#358e77" opacity="0.75"/>
<rect x="765.85" y="719.80" width="1.5" height="13.70" fill="#358e77"/>
<rect x="767.85" y="695.60" width="0.9" height="25.20" fill="#358e77" opacity="0.75"/>
<rect x="767.55" y="696.60" width="1.5" height="23.20" fill="#358e77"/>
<rect x="769.55" y="677.60" width="0.9" height="20.90" fill="#358e77" opacity="0.75"/>
<rect x="769.25" y="678.60" width="1.5" height="18.90" fill="#358e77"/>
<rect x="771.35" y="663.00" width="0.9" height="17.00" fill="#358e77" opacity="0.75"/>
<rect x="771.05" y="664.00" width="1.5" height="15.00" fill="#358e77"/>
<rect x="773.15" y="660.00" width="0.9" height="16.00" fill="#358e77" opacity="0.75"/>
<rect x="772.85" y="663.00" width="1.5" height="12.00" fill="#358e77"/>
<rect x="774.95" y="661.00" width="0.9" height="10.60" fill="#cf4d53" opacity="0.75"/>
<rect x="774.65" y="662.00" width="1.5" height="8.60" fill="#cf4d53"/>
<rect x="776.85" y="665.00" width="0.9" height="17.00" fill="#cf4d53" opacity="0.75"/>
<rect x="776.55" y="665.70" width="1.5" height="11.30" fill="#cf4d53"/>
<rect x="778.55" y="669.00" width="0.9" height="15.00" fill="#cf4d53" opacity="0.75"/>
<rect x="778.25" y="670.00" width="1.5" height="10.00" fill="#cf4d53"/>
<rect x="780.15" y="664.00" width="0.9" height="15.00" fill="#358e77" opacity="0.75"/>
<rect x="779.85" y="665.00" width="1.5" height="13.00" fill="#358e77"/>
<rect x="781.75" y="650.00" width="0.9" height="21.60" fill="#358e77" opacity="0.75"/>
<rect x="781.45" y="651.00" width="1.5" height="19.60" fill="#358e77"/>
<rect x="783.55" y="647.60" width="0.9" height="14.20" fill="#358e77" opacity="0.75"/>
<rect x="783.25" y="648.60" width="1.5" height="12.20" fill="#358e77"/>
<rect x="784.75" y="616.70" width="0.9" height="35.30" fill="#358e77" opacity="0.75"/>
<rect x="784.45" y="621.60" width="1.5" height="29.40" fill="#358e77"/>
<rect x="786.35" y="610.50" width="0.9" height="22.50" fill="#cf4d53" opacity="0.75"/>
<rect x="786.05" y="621.60" width="1.5" height="11.00" fill="#cf4d53"/>
<rect x="788.45" y="625.50" width="0.9" height="6.90" fill="#358e77" opacity="0.75"/>
<rect x="788.15" y="626.50" width="1.5" height="4.90" fill="#358e77"/>
<rect x="790.25" y="621.80" width="0.9" height="8.20" fill="#358e77" opacity="0.75"/>
<rect x="789.95" y="622.80" width="1.5" height="6.20" fill="#358e77"/>
<rect x="791.75" y="583.60" width="0.9" height="51.40" fill="#358e77" opacity="0.75"/>
<rect x="791.45" y="605.60" width="1.5" height="18.40" fill="#358e77"/>
<rect x="793.35" y="598.50" width="0.9" height="6.90" fill="#358e77" opacity="0.75"/>
<rect x="793.05" y="599.50" width="1.5" height="4.90" fill="#358e77"/>
<rect x="794.95" y="594.80" width="0.9" height="9.20" fill="#cf4d53" opacity="0.75"/>
<rect x="794.65" y="595.80" width="1.5" height="7.20" fill="#cf4d53"/>
<rect x="796.65" y="598.50" width="0.9" height="11.80" fill="#cf4d53" opacity="0.75"/>
<rect x="796.35" y="599.50" width="1.5" height="9.80" fill="#cf4d53"/>
<rect x="798.25" y="607.00" width="0.9" height="10.70" fill="#cf4d53" opacity="0.75"/>
<rect x="797.95" y="608.00" width="1.5" height="8.70" fill="#cf4d53"/>
<rect x="800.15" y="602.00" width="0.9" height="14.50" fill="#358e77" opacity="0.75"/>
<rect x="799.85" y="603.00" width="1.5" height="12.50" fill="#358e77"/>
<rect x="801.95" y="606.00" width="0.9" height="6.80" fill="#cf4d53" opacity="0.75"/>
<rect x="801.65" y="607.00" width="1.5" height="4.80" fill="#cf4d53"/>
<rect x="803.75" y="608.30" width="0.9" height="6.90" fill="#cf4d53" opacity="0.75"/>
<rect x="803.45" y="609.30" width="1.5" height="4.90" fill="#cf4d53"/>
<rect x="806.25" y="590.00" width="0.9" height="24.00" fill="#358e77" opacity="0.75"/>
<rect x="805.95" y="592.00" width="1.5" height="21.00" fill="#358e77"/>
<rect x="808.05" y="591.00" width="0.9" height="21.80" fill="#cf4d53" opacity="0.75"/>
<rect x="807.75" y="592.00" width="1.5" height="19.80" fill="#cf4d53"/>
<rect x="809.25" y="610.80" width="0.9" height="11.80" fill="#cf4d53" opacity="0.75"/>
<rect x="808.95" y="611.80" width="1.5" height="9.80" fill="#cf4d53"/>
<rect x="811.15" y="615.70" width="0.9" height="6.30" fill="#358e77" opacity="0.75"/>
<rect x="810.85" y="616.70" width="1.5" height="4.30" fill="#358e77"/>
<rect x="812.95" y="602.00" width="0.9" height="18.00" fill="#358e77" opacity="0.75"/>
<rect x="812.65" y="605.60" width="1.5" height="13.40" fill="#358e77"/>
<rect x="814.85" y="615.70" width="0.9" height="9.30" fill="#cf4d53" opacity="0.75"/>
<rect x="814.55" y="616.70" width="1.5" height="7.30" fill="#cf4d53"/>
<rect x="816.65" y="617.00" width="0.9" height="5.60" fill="#cf4d53" opacity="0.75"/>
<rect x="816.35" y="618.00" width="1.5" height="3.60" fill="#cf4d53"/>
<rect x="818.45" y="619.40" width="0.9" height="17.90" fill="#cf4d53" opacity="0.75"/>
<rect x="818.15" y="620.40" width="1.5" height="15.90" fill="#cf4d53"/>
<rect x="820.35" y="632.80" width="0.9" height="4.50" fill="#cf4d53" opacity="0.75"/>
<rect x="820.05" y="633.80" width="1.5" height="2.50" fill="#cf4d53"/>
<rect x="821.95" y="634.00" width="0.9" height="13.00" fill="#cf4d53" opacity="0.75"/>
<rect x="821.65" y="635.00" width="1.5" height="11.00" fill="#cf4d53"/>
<rect x="823.35" y="642.70" width="0.9" height="13.00" fill="#cf4d53" opacity="0.75"/>
<rect x="823.05" y="643.70" width="1.5" height="11.00" fill="#cf4d53"/>
<rect x="825.25" y="653.00" width="0.9" height="16.40" fill="#cf4d53" opacity="0.75"/>
<rect x="824.95" y="653.50" width="1.5" height="6.10" fill="#cf4d53"/>
<rect x="827.05" y="655.00" width="0.9" height="6.80" fill="#358e77" opacity="0.75"/>
<rect x="826.75" y="656.00" width="1.5" height="4.80" fill="#358e77"/>
<rect x="828.95" y="653.70" width="0.9" height="6.90" fill="#358e77" opacity="0.75"/>
<rect x="828.65" y="654.70" width="1.5" height="4.90" fill="#358e77"/>
<rect x="830.75" y="648.80" width="0.9" height="8.20" fill="#358e77" opacity="0.75"/>
<rect x="830.45" y="649.80" width="1.5" height="6.20" fill="#358e77"/>
<rect x="832.55" y="643.90" width="0.9" height="9.10" fill="#358e77" opacity="0.75"/>
<rect x="832.25" y="644.90" width="1.5" height="7.10" fill="#358e77"/>
<rect x="833.85" y="638.00" width="0.9" height="10.60" fill="#358e77" opacity="0.75"/>
<rect x="833.55" y="639.00" width="1.5" height="8.60" fill="#358e77"/>
<rect x="835.05" y="628.20" width="0.9" height="11.80" fill="#358e77" opacity="0.75"/>
<rect x="834.75" y="629.20" width="1.5" height="9.80" fill="#358e77"/>
<rect x="836.65" y="608.40" width="0.9" height="21.60" fill="#358e77" opacity="0.75"/>
<rect x="836.35" y="617.00" width="1.5" height="12.00" fill="#358e77"/>
<rect x="838.15" y="611.00" width="0.9" height="8.20" fill="#cf4d53" opacity="0.75"/>
<rect x="837.85" y="612.00" width="1.5" height="6.20" fill="#cf4d53"/>
<rect x="839.95" y="613.50" width="0.9" height="5.70" fill="#358e77" opacity="0.75"/>
<rect x="839.65" y="614.50" width="1.5" height="3.70" fill="#358e77"/>
<rect x="841.85" y="613.50" width="0.9" height="18.00" fill="#cf4d53" opacity="0.75"/>
<rect x="841.55" y="614.50" width="1.5" height="16.00" fill="#cf4d53"/>
<rect x="844.05" y="620.90" width="0.9" height="9.30" fill="#cf4d53" opacity="0.75"/>
<rect x="843.75" y="621.90" width="1.5" height="7.30" fill="#cf4d53"/>
<rect x="846.05" y="623.00" width="0.9" height="11.00" fill="#358e77" opacity="0.75"/>
<rect x="845.75" y="624.00" width="1.5" height="9.00" fill="#358e77"/>
<rect x="847.95" y="608.40" width="0.9" height="17.60" fill="#358e77" opacity="0.75"/>
<rect x="847.65" y="623.00" width="1.5" height="2.50" fill="#358e77"/>
<rect x="849.75" y="619.60" width="0.9" height="5.70" fill="#358e77" opacity="0.75"/>
<rect x="849.45" y="620.60" width="1.5" height="3.70" fill="#358e77"/>
<rect x="851.55" y="619.60" width="0.9" height="8.20" fill="#cf4d53" opacity="0.75"/>
<rect x="851.25" y="620.60" width="1.5" height="6.20" fill="#cf4d53"/>
<rect x="853.45" y="621.00" width="0.9" height="11.70" fill="#cf4d53" opacity="0.75"/>
<rect x="853.15" y="622.00" width="1.5" height="9.70" fill="#cf4d53"/>
<rect x="855.25" y="626.00" width="0.9" height="13.00" fill="#cf4d53" opacity="0.75"/>
<rect x="854.95" y="626.80" width="1.5" height="9.80" fill="#cf4d53"/>
<rect x="856.75" y="621.00" width="0.9" height="14.00" fill="#358e77" opacity="0.75"/>
<rect x="856.45" y="622.00" width="1.5" height="12.00" fill="#358e77"/>
<rect x="859.55" y="617.20" width="0.9" height="10.60" fill="#358e77" opacity="0.75"/>
<rect x="859.25" y="618.20" width="1.5" height="8.60" fill="#358e77"/>
<rect x="861.15" y="615.00" width="0.9" height="22.80" fill="#cf4d53" opacity="0.75"/>
<rect x="860.85" y="615.70" width="1.5" height="17.30" fill="#cf4d53"/>
<rect x="863.25" y="604.70" width="0.9" height="21.30" fill="#cf4d53" opacity="0.75"/>
<rect x="862.95" y="615.70" width="1.5" height="9.80" fill="#cf4d53"/>
<rect x="865.05" y="623.30" width="0.9" height="21.70" fill="#cf4d53" opacity="0.75"/>
<rect x="864.75" y="624.30" width="1.5" height="19.70" fill="#cf4d53"/>
<rect x="866.95" y="643.00" width="0.9" height="9.30" fill="#cf4d53" opacity="0.75"/>
<rect x="866.65" y="644.00" width="1.5" height="7.30" fill="#cf4d53"/>
<rect x="868.55" y="651.00" width="0.9" height="7.00" fill="#cf4d53" opacity="0.75"/>
<rect x="868.25" y="651.30" width="1.5" height="4.90" fill="#cf4d53"/>
<rect x="870.55" y="651.50" width="0.9" height="3.20" fill="#358e77" opacity="0.75"/>
<rect x="870.25" y="652.50" width="1.5" height="1.20" fill="#358e77"/>
<rect x="872.45" y="650.30" width="0.9" height="6.90" fill="#cf4d53" opacity="0.75"/>
<rect x="872.15" y="651.30" width="1.5" height="4.90" fill="#cf4d53"/>
<rect x="874.25" y="652.70" width="0.9" height="6.90" fill="#cf4d53" opacity="0.75"/>
<rect x="873.95" y="653.70" width="1.5" height="4.90" fill="#cf4d53"/>
<rect x="876.15" y="654.00" width="0.9" height="3.20" fill="#358e77" opacity="0.75"/>
<rect x="875.85" y="655.00" width="1.5" height="1.20" fill="#358e77"/>
<rect x="877.95" y="646.60" width="0.9" height="9.40" fill="#358e77" opacity="0.75"/>
<rect x="877.65" y="647.60" width="1.5" height="7.40" fill="#358e77"/>
<rect x="879.85" y="645.40" width="0.9" height="9.30" fill="#cf4d53" opacity="0.75"/>
<rect x="879.55" y="646.40" width="1.5" height="7.30" fill="#cf4d53"/>
<rect x="881.65" y="647.80" width="0.9" height="6.90" fill="#cf4d53" opacity="0.75"/>
<rect x="881.35" y="648.80" width="1.5" height="4.90" fill="#cf4d53"/>
<rect x="883.45" y="646.60" width="0.9" height="5.70" fill="#358e77" opacity="0.75"/>
<rect x="883.15" y="647.60" width="1.5" height="3.70" fill="#358e77"/>
<rect x="885.35" y="645.40" width="0.9" height="5.60" fill="#358e77" opacity="0.75"/>
<rect x="885.05" y="646.40" width="1.5" height="3.60" fill="#358e77"/>
<rect x="887.15" y="636.60" width="0.9" height="12.40" fill="#358e77" opacity="0.75"/>
<rect x="886.85" y="646.40" width="1.5" height="2.40" fill="#358e77"/>
<rect x="889.05" y="649.00" width="0.9" height="20.50" fill="#cf4d53" opacity="0.75"/>
<rect x="888.75" y="650.00" width="1.5" height="18.50" fill="#cf4d53"/>
<rect x="890.25" y="668.00" width="0.9" height="10.30" fill="#cf4d53" opacity="0.75"/>
<rect x="889.95" y="668.50" width="1.5" height="3.50" fill="#cf4d53"/>
<rect x="892.05" y="639.00" width="0.9" height="29.00" fill="#358e77" opacity="0.75"/>
<rect x="891.75" y="651.30" width="1.5" height="2.40" fill="#358e77"/>
<rect x="893.95" y="651.50" width="0.9" height="13.00" fill="#cf4d53" opacity="0.75"/>
<rect x="893.65" y="652.50" width="1.5" height="11.00" fill="#cf4d53"/>
<rect x="895.75" y="652.70" width="0.9" height="11.80" fill="#358e77" opacity="0.75"/>
<rect x="895.45" y="653.70" width="1.5" height="9.80" fill="#358e77"/>
<rect x="897.05" y="647.80" width="0.9" height="14.20" fill="#358e77" opacity="0.75"/>
<rect x="896.75" y="648.80" width="1.5" height="12.20" fill="#358e77"/>
<rect x="898.85" y="645.40" width="0.9" height="11.80" fill="#358e77" opacity="0.75"/>
<rect x="898.55" y="646.40" width="1.5" height="9.80" fill="#358e77"/>
<rect x="900.65" y="641.70" width="0.9" height="8.10" fill="#358e77" opacity="0.75"/>
<rect x="900.35" y="642.70" width="1.5" height="6.10" fill="#358e77"/>
<rect x="902.55" y="629.00" width="0.9" height="16.00" fill="#358e77" opacity="0.75"/>
<rect x="902.25" y="633.00" width="1.5" height="11.00" fill="#358e77"/>
<rect x="904.35" y="632.00" width="0.9" height="11.70" fill="#cf4d53" opacity="0.75"/>
<rect x="904.05" y="633.00" width="1.5" height="9.70" fill="#cf4d53"/>
<rect x="906.15" y="629.00" width="0.9" height="13.00" fill="#358e77" opacity="0.75"/>
<rect x="905.85" y="633.00" width="1.5" height="8.50" fill="#358e77"/>
<rect x="908.25" y="632.00" width="0.9" height="6.80" fill="#cf4d53" opacity="0.75"/>
<rect x="907.95" y="633.00" width="1.5" height="4.80" fill="#cf4d53"/>
<rect x="909.85" y="633.00" width="0.9" height="8.00" fill="#cf4d53" opacity="0.75"/>
<rect x="909.55" y="634.00" width="1.5" height="6.00" fill="#cf4d53"/>
<rect x="911.75" y="635.60" width="0.9" height="4.40" fill="#cf4d53" opacity="0.75"/>
<rect x="911.45" y="636.60" width="1.5" height="2.40" fill="#cf4d53"/>
<rect x="912.95" y="621.00" width="0.9" height="17.80" fill="#358e77" opacity="0.75"/>
<rect x="912.65" y="622.00" width="1.5" height="15.80" fill="#358e77"/>
<rect x="914.75" y="613.30" width="0.9" height="10.70" fill="#358e77" opacity="0.75"/>
<rect x="914.45" y="619.40" width="1.5" height="3.60" fill="#358e77"/>
<rect x="916.65" y="612.00" width="0.9" height="11.00" fill="#358e77" opacity="0.75"/>
<rect x="916.35" y="618.20" width="1.5" height="3.80" fill="#358e77"/>
<rect x="918.45" y="618.40" width="0.9" height="15.60" fill="#cf4d53" opacity="0.75"/>
<rect x="918.15" y="619.40" width="1.5" height="13.60" fill="#cf4d53"/>
<rect x="920.25" y="630.70" width="0.9" height="16.70" fill="#cf4d53" opacity="0.75"/>
<rect x="919.95" y="631.70" width="1.5" height="14.70" fill="#cf4d53"/>
<rect x="922.15" y="644.00" width="0.9" height="7.30" fill="#cf4d53" opacity="0.75"/>
<rect x="921.85" y="645.00" width="1.5" height="3.80" fill="#cf4d53"/>
<rect x="923.95" y="643.00" width="0.9" height="7.00" fill="#358e77" opacity="0.75"/>
<rect x="923.65" y="646.40" width="1.5" height="2.40" fill="#358e77"/>
<rect x="925.85" y="646.60" width="0.9" height="5.70" fill="#cf4d53" opacity="0.75"/>
<rect x="925.55" y="647.60" width="1.5" height="3.70" fill="#cf4d53"/>
<rect x="927.45" y="641.70" width="0.9" height="9.30" fill="#358e77" opacity="0.75"/>
<rect x="927.15" y="642.70" width="1.5" height="7.30" fill="#358e77"/>
<rect x="929.55" y="633.00" width="0.9" height="12.00" fill="#358e77" opacity="0.75"/>
<rect x="929.25" y="634.00" width="1.5" height="10.00" fill="#358e77"/>
<rect x="931.35" y="629.50" width="0.9" height="8.10" fill="#358e77" opacity="0.75"/>
<rect x="931.05" y="630.50" width="1.5" height="6.10" fill="#358e77"/>
<rect x="933.15" y="629.50" width="0.9" height="5.50" fill="#cf4d53" opacity="0.75"/>
<rect x="932.85" y="630.50" width="1.5" height="3.50" fill="#cf4d53"/>
<rect x="935.05" y="633.00" width="0.9" height="13.00" fill="#cf4d53" opacity="0.75"/>
<rect x="934.75" y="634.00" width="1.5" height="11.00" fill="#cf4d53"/>
<rect x="936.85" y="638.00" width="0.9" height="7.00" fill="#358e77" opacity="0.75"/>
<rect x="936.55" y="639.00" width="1.5" height="5.00" fill="#358e77"/>
<rect x="938.65" y="635.60" width="0.9" height="6.90" fill="#358e77" opacity="0.75"/>
<rect x="938.35" y="636.60" width="1.5" height="4.90" fill="#358e77"/>
<rect x="940.55" y="630.70" width="0.9" height="9.30" fill="#358e77" opacity="0.75"/>
<rect x="940.25" y="631.70" width="1.5" height="7.30" fill="#358e77"/>
<rect x="942.35" y="624.50" width="0.9" height="9.50" fill="#358e77" opacity="0.75"/>
<rect x="942.05" y="625.50" width="1.5" height="7.50" fill="#358e77"/>
<rect x="944.15" y="620.90" width="0.9" height="6.90" fill="#358e77" opacity="0.75"/>
<rect x="943.85" y="621.90" width="1.5" height="4.90" fill="#358e77"/>
<rect x="946.05" y="613.50" width="0.9" height="11.80" fill="#358e77" opacity="0.75"/>
<rect x="945.75" y="614.50" width="1.5" height="9.80" fill="#358e77"/>
<rect x="947.25" y="602.50" width="0.9" height="15.50" fill="#358e77" opacity="0.75"/>
<rect x="946.95" y="603.50" width="1.5" height="13.50" fill="#358e77"/>
<rect x="948.35" y="580.00" width="0.9" height="26.00" fill="#358e77" opacity="0.75"/>
<rect x="948.05" y="581.00" width="1.5" height="24.00" fill="#358e77"/>
<rect x="949.25" y="555.30" width="0.9" height="28.70" fill="#358e77" opacity="0.75"/>
<rect x="948.95" y="560.70" width="1.5" height="22.90" fill="#358e77"/>
<rect x="950.35" y="557.00" width="0.9" height="11.40" fill="#cf4d53" opacity="0.75"/>
<rect x="950.05" y="558.00" width="1.5" height="9.40" fill="#cf4d53"/>
<rect x="951.95" y="563.70" width="0.9" height="7.30" fill="#cf4d53" opacity="0.75"/>
<rect x="951.65" y="564.70" width="1.5" height="5.30" fill="#cf4d53"/>
<rect x="953.75" y="561.00" width="0.9" height="10.00" fill="#358e77" opacity="0.75"/>
<rect x="953.45" y="562.00" width="1.5" height="8.00" fill="#358e77"/>
<rect x="955.45" y="558.30" width="0.9" height="7.40" fill="#358e77" opacity="0.75"/>
<rect x="955.15" y="559.30" width="1.5" height="5.40" fill="#358e77"/>
<rect x="957.05" y="551.60" width="0.9" height="8.70" fill="#358e77" opacity="0.75"/>
<rect x="956.75" y="552.60" width="1.5" height="6.70" fill="#358e77"/>
<rect x="958.75" y="549.00" width="0.9" height="6.00" fill="#358e77" opacity="0.75"/>
<rect x="958.45" y="550.00" width="1.5" height="4.00" fill="#358e77"/>
<rect x="960.45" y="524.30" width="0.9" height="27.70" fill="#358e77" opacity="0.75"/>
<rect x="960.15" y="533.70" width="1.5" height="17.60" fill="#358e77"/>
<rect x="962.45" y="532.70" width="0.9" height="12.80" fill="#cf4d53" opacity="0.75"/>
<rect x="962.15" y="533.70" width="1.5" height="10.80" fill="#cf4d53"/>
<rect x="964.55" y="541.00" width="0.9" height="11.60" fill="#cf4d53" opacity="0.75"/>
<rect x="964.25" y="541.80" width="1.5" height="6.80" fill="#cf4d53"/>
<rect x="966.55" y="532.70" width="0.9" height="15.50" fill="#358e77" opacity="0.75"/>
<rect x="966.25" y="533.70" width="1.5" height="13.50" fill="#358e77"/>
<rect x="967.85" y="510.00" width="0.9" height="38.00" fill="#358e77" opacity="0.75"/>
<rect x="967.55" y="512.00" width="1.5" height="35.20" fill="#358e77"/>
<rect x="969.25" y="512.50" width="0.9" height="15.50" fill="#cf4d53" opacity="0.75"/>
<rect x="968.95" y="513.50" width="1.5" height="13.50" fill="#cf4d53"/>
<rect x="970.85" y="519.20" width="0.9" height="19.60" fill="#cf4d53" opacity="0.75"/>
<rect x="970.55" y="520.20" width="1.5" height="17.60" fill="#cf4d53"/>
<rect x="972.55" y="530.00" width="0.9" height="8.80" fill="#358e77" opacity="0.75"/>
<rect x="972.25" y="531.00" width="1.5" height="6.80" fill="#358e77"/>
<rect x="974.35" y="525.00" width="0.9" height="11.00" fill="#358e77" opacity="0.75"/>
<rect x="974.05" y="531.00" width="1.5" height="4.00" fill="#358e77"/>
<rect x="975.95" y="530.00" width="0.9" height="12.80" fill="#cf4d53" opacity="0.75"/>
<rect x="975.65" y="531.00" width="1.5" height="10.80" fill="#cf4d53"/>
<rect x="977.55" y="539.50" width="0.9" height="15.50" fill="#cf4d53" opacity="0.75"/>
<rect x="977.25" y="540.50" width="1.5" height="13.50" fill="#cf4d53"/>
<rect x="979.35" y="549.00" width="0.9" height="6.00" fill="#cf4d53" opacity="0.75"/>
<rect x="979.05" y="550.00" width="1.5" height="4.00" fill="#cf4d53"/>
<rect x="981.35" y="548.00" width="0.9" height="11.00" fill="#358e77" opacity="0.75"/>
<rect x="981.05" y="548.60" width="1.5" height="4.00" fill="#358e77"/>
<rect x="983.35" y="547.60" width="0.9" height="6.00" fill="#cf4d53" opacity="0.75"/>
<rect x="983.05" y="548.60" width="1.5" height="4.00" fill="#cf4d53"/>
<rect x="985.45" y="543.00" width="0.9" height="12.00" fill="#cf4d53" opacity="0.75"/>
<rect x="985.15" y="550.00" width="1.5" height="4.00" fill="#cf4d53"/>
<rect x="987.45" y="551.60" width="0.9" height="11.40" fill="#cf4d53" opacity="0.75"/>
<rect x="987.15" y="552.60" width="1.5" height="9.40" fill="#cf4d53"/>
<rect x="989.45" y="555.60" width="0.9" height="7.40" fill="#cf4d53" opacity="0.75"/>
<rect x="989.15" y="556.60" width="1.5" height="5.40" fill="#cf4d53"/>
<rect x="991.45" y="557.00" width="0.9" height="6.00" fill="#cf4d53" opacity="0.75"/>
<rect x="991.15" y="558.00" width="1.5" height="4.00" fill="#cf4d53"/>
<rect x="993.55" y="558.30" width="0.9" height="6.10" fill="#cf4d53" opacity="0.75"/>
<rect x="993.25" y="559.30" width="1.5" height="4.10" fill="#cf4d53"/>
<rect x="995.55" y="559.00" width="0.9" height="12.50" fill="#358e77" opacity="0.75"/>
<rect x="995.25" y="559.30" width="1.5" height="5.40" fill="#358e77"/>
<rect x="997.55" y="555.60" width="0.9" height="7.40" fill="#358e77" opacity="0.75"/>
<rect x="997.25" y="556.60" width="1.5" height="5.40" fill="#358e77"/>
<rect x="999.55" y="555.60" width="0.9" height="6.10" fill="#358e77" opacity="0.75"/>
<rect x="999.25" y="556.60" width="1.5" height="4.10" fill="#358e77"/>
<rect x="1001.55" y="554.30" width="0.9" height="8.70" fill="#cf4d53" opacity="0.75"/>
<rect x="1001.25" y="555.30" width="1.5" height="6.70" fill="#cf4d53"/>
<rect x="1003.55" y="557.00" width="0.9" height="7.40" fill="#cf4d53" opacity="0.75"/>
<rect x="1003.25" y="558.00" width="1.5" height="5.40" fill="#cf4d53"/>
<rect x="1005.65" y="556.00" width="0.9" height="11.00" fill="#cf4d53" opacity="0.75"/>
<rect x="1005.35" y="556.60" width="1.5" height="6.80" fill="#cf4d53"/>
<rect x="1006.95" y="544.90" width="0.9" height="18.10" fill="#358e77" opacity="0.75"/>
<rect x="1006.65" y="545.90" width="1.5" height="16.10" fill="#358e77"/>
<rect x="1008.35" y="530.00" width="0.9" height="16.90" fill="#358e77" opacity="0.75"/>
<rect x="1008.05" y="531.00" width="1.5" height="14.90" fill="#358e77"/>
<rect x="1010.35" y="531.00" width="0.9" height="10.00" fill="#cf4d53" opacity="0.75"/>
<rect x="1010.05" y="532.00" width="1.5" height="8.00" fill="#cf4d53"/>
<rect x="1012.35" y="536.40" width="0.9" height="7.40" fill="#cf4d53" opacity="0.75"/>
<rect x="1012.05" y="537.40" width="1.5" height="5.40" fill="#cf4d53"/>
<rect x="1014.35" y="533.70" width="0.9" height="7.30" fill="#358e77" opacity="0.75"/>
<rect x="1014.05" y="534.70" width="1.5" height="5.30" fill="#358e77"/>
<rect x="1016.45" y="522.60" width="0.9" height="15.40" fill="#358e77" opacity="0.75"/>
<rect x="1016.15" y="533.40" width="1.5" height="4.00" fill="#358e77"/>
<rect x="1018.45" y="531.00" width="0.9" height="7.40" fill="#358e77" opacity="0.75"/>
<rect x="1018.15" y="532.00" width="1.5" height="5.40" fill="#358e77"/>
<rect x="1020.05" y="502.70" width="0.9" height="31.70" fill="#358e77" opacity="0.75"/>
<rect x="1019.75" y="503.70" width="1.5" height="29.70" fill="#358e77"/>
<rect x="1021.85" y="496.00" width="0.9" height="8.70" fill="#358e77" opacity="0.75"/>
<rect x="1021.55" y="497.00" width="1.5" height="6.70" fill="#358e77"/>
<rect x="1023.55" y="478.00" width="0.9" height="20.00" fill="#358e77" opacity="0.75"/>
<rect x="1023.25" y="493.00" width="1.5" height="4.00" fill="#358e77"/>
<rect x="1024.95" y="492.00" width="0.9" height="6.00" fill="#cf4d53" opacity="0.75"/>
<rect x="1024.65" y="493.00" width="1.5" height="4.00" fill="#cf4d53"/>
<rect x="1026.55" y="493.30" width="0.9" height="14.10" fill="#cf4d53" opacity="0.75"/>
<rect x="1026.25" y="494.30" width="1.5" height="12.10" fill="#cf4d53"/>
<rect x="1028.55" y="502.70" width="0.9" height="6.10" fill="#cf4d53" opacity="0.75"/>
<rect x="1028.25" y="503.70" width="1.5" height="4.10" fill="#cf4d53"/>
<rect x="1030.35" y="504.00" width="0.9" height="25.00" fill="#cf4d53" opacity="0.75"/>
<rect x="1030.05" y="505.00" width="1.5" height="23.00" fill="#cf4d53"/>
<rect x="1031.95" y="519.00" width="0.9" height="11.30" fill="#cf4d53" opacity="0.75"/>
<rect x="1031.65" y="520.00" width="1.5" height="9.30" fill="#cf4d53"/>
<rect x="1033.55" y="520.30" width="0.9" height="7.40" fill="#358e77" opacity="0.75"/>
<rect x="1033.25" y="521.30" width="1.5" height="5.40" fill="#358e77"/>
<rect x="1035.25" y="521.60" width="0.9" height="6.10" fill="#358e77" opacity="0.75"/>
<rect x="1034.95" y="522.60" width="1.5" height="4.10" fill="#358e77"/>
<rect x="1037.05" y="523.00" width="0.9" height="7.30" fill="#cf4d53" opacity="0.75"/>
<rect x="1036.75" y="524.00" width="1.5" height="5.30" fill="#cf4d53"/>
<rect x="1038.55" y="525.70" width="0.9" height="6.00" fill="#cf4d53" opacity="0.75"/>
<rect x="1038.25" y="526.70" width="1.5" height="4.00" fill="#cf4d53"/>
<rect x="1040.65" y="527.00" width="0.9" height="6.00" fill="#cf4d53" opacity="0.75"/>
<rect x="1040.35" y="528.00" width="1.5" height="4.00" fill="#cf4d53"/>
<rect x="1042.45" y="523.00" width="0.9" height="10.00" fill="#358e77" opacity="0.75"/>
<rect x="1042.15" y="524.00" width="1.5" height="8.00" fill="#358e77"/>
<rect x="1044.35" y="495.60" width="0.9" height="31.40" fill="#358e77" opacity="0.75"/>
<rect x="1044.05" y="511.80" width="1.5" height="14.90" fill="#358e77"/>
<rect x="1046.05" y="510.80" width="0.9" height="4.70" fill="#358e77" opacity="0.75"/>
<rect x="1045.75" y="511.80" width="1.5" height="2.70" fill="#358e77"/>
<rect x="1048.15" y="510.80" width="0.9" height="7.40" fill="#cf4d53" opacity="0.75"/>
<rect x="1047.85" y="511.80" width="1.5" height="5.40" fill="#cf4d53"/>
<rect x="1050.15" y="513.50" width="0.9" height="7.50" fill="#cf4d53" opacity="0.75"/>
<rect x="1049.85" y="514.50" width="1.5" height="5.50" fill="#cf4d53"/>
<rect x="1052.15" y="514.90" width="0.9" height="7.40" fill="#cf4d53" opacity="0.75"/>
<rect x="1051.85" y="515.90" width="1.5" height="5.40" fill="#cf4d53"/>
<rect x="1054.15" y="512.00" width="0.9" height="14.30" fill="#358e77" opacity="0.75"/>
<rect x="1053.85" y="513.00" width="1.5" height="12.30" fill="#358e77"/>
<rect x="1056.15" y="510.80" width="0.9" height="14.20" fill="#358e77" opacity="0.75"/>
<rect x="1055.85" y="511.80" width="1.5" height="12.20" fill="#358e77"/>
<rect x="1058.25" y="516.20" width="0.9" height="11.50" fill="#cf4d53" opacity="0.75"/>
<rect x="1057.95" y="517.20" width="1.5" height="9.50" fill="#cf4d53"/>
<rect x="1060.95" y="519.00" width="0.9" height="10.00" fill="#358e77" opacity="0.75"/>
<rect x="1060.65" y="520.00" width="1.5" height="8.00" fill="#358e77"/>
<rect x="1062.95" y="519.00" width="0.9" height="8.70" fill="#358e77" opacity="0.75"/>
<rect x="1062.65" y="520.00" width="1.5" height="6.70" fill="#358e77"/>
<rect x="1064.95" y="520.30" width="0.9" height="8.70" fill="#cf4d53" opacity="0.75"/>
<rect x="1064.65" y="521.30" width="1.5" height="6.70" fill="#cf4d53"/>
<rect x="1066.95" y="523.00" width="0.9" height="7.30" fill="#cf4d53" opacity="0.75"/>
<rect x="1066.65" y="524.00" width="1.5" height="5.30" fill="#cf4d53"/>
<rect x="1069.05" y="523.00" width="0.9" height="8.70" fill="#cf4d53" opacity="0.75"/>
<rect x="1068.75" y="524.00" width="1.5" height="6.70" fill="#cf4d53"/>
<rect x="1071.05" y="523.50" width="0.9" height="8.80" fill="#358e77" opacity="0.75"/>
<rect x="1070.75" y="524.50" width="1.5" height="6.80" fill="#358e77"/>
<rect x="1073.05" y="527.60" width="0.9" height="12.70" fill="#cf4d53" opacity="0.75"/>
<rect x="1072.75" y="528.60" width="1.5" height="10.70" fill="#cf4d53"/>
<rect x="1075.05" y="535.60" width="0.9" height="10.10" fill="#cf4d53" opacity="0.75"/>
<rect x="1074.75" y="536.60" width="1.5" height="8.10" fill="#cf4d53"/>
<rect x="1076.85" y="537.00" width="0.9" height="16.80" fill="#cf4d53" opacity="0.75"/>
<rect x="1076.55" y="538.00" width="1.5" height="14.80" fill="#cf4d53"/>
<rect x="1078.75" y="541.00" width="0.9" height="8.80" fill="#358e77" opacity="0.75"/>
<rect x="1078.45" y="542.00" width="1.5" height="6.80" fill="#358e77"/>
<rect x="1080.45" y="537.00" width="0.9" height="8.70" fill="#358e77" opacity="0.75"/>
<rect x="1080.15" y="538.00" width="1.5" height="6.70" fill="#358e77"/>
<rect x="1082.25" y="535.60" width="0.9" height="12.80" fill="#cf4d53" opacity="0.75"/>
<rect x="1081.95" y="536.60" width="1.5" height="10.80" fill="#cf4d53"/>
<rect x="1083.85" y="538.30" width="0.9" height="7.40" fill="#358e77" opacity="0.75"/>
<rect x="1083.55" y="539.30" width="1.5" height="5.40" fill="#358e77"/>
<rect x="1085.85" y="530.30" width="0.9" height="11.40" fill="#358e77" opacity="0.75"/>
<rect x="1085.55" y="531.30" width="1.5" height="9.40" fill="#358e77"/>
<rect x="1087.85" y="529.00" width="0.9" height="7.30" fill="#358e77" opacity="0.75"/>
<rect x="1087.55" y="530.00" width="1.5" height="5.30" fill="#358e77"/>
<rect x="1089.85" y="527.60" width="0.9" height="7.40" fill="#358e77" opacity="0.75"/>
<rect x="1089.55" y="528.60" width="1.5" height="5.40" fill="#358e77"/>
<rect x="1091.95" y="526.20" width="0.9" height="6.10" fill="#358e77" opacity="0.75"/>
<rect x="1091.65" y="527.20" width="1.5" height="4.10" fill="#358e77"/>
<rect x="1093.95" y="518.00" width="0.9" height="10.20" fill="#358e77" opacity="0.75"/>
<rect x="1093.65" y="519.00" width="1.5" height="8.20" fill="#358e77"/>
<rect x="1095.25" y="516.80" width="0.9" height="7.40" fill="#cf4d53" opacity="0.75"/>
<rect x="1094.95" y="517.80" width="1.5" height="5.40" fill="#cf4d53"/>
<rect x="1097.05" y="516.80" width="0.9" height="10.10" fill="#cf4d53" opacity="0.75"/>
<rect x="1096.75" y="517.80" width="1.5" height="8.10" fill="#cf4d53"/>
<rect x="1098.95" y="514.00" width="0.9" height="10.20" fill="#358e77" opacity="0.75"/>
<rect x="1098.65" y="515.00" width="1.5" height="8.20" fill="#358e77"/>
<rect x="1100.65" y="511.40" width="0.9" height="7.40" fill="#358e77" opacity="0.75"/>
<rect x="1100.35" y="512.40" width="1.5" height="5.40" fill="#358e77"/>
<rect x="1102.45" y="511.40" width="0.9" height="6.00" fill="#cf4d53" opacity="0.75"/>
<rect x="1102.15" y="512.40" width="1.5" height="4.00" fill="#cf4d53"/>
<rect x="1104.05" y="512.70" width="0.9" height="22.30" fill="#cf4d53" opacity="0.75"/>
<rect x="1103.75" y="513.70" width="1.5" height="20.30" fill="#cf4d53"/>
<rect x="1106.05" y="533.00" width="0.9" height="45.50" fill="#cf4d53" opacity="0.75"/>
<rect x="1105.75" y="534.00" width="1.5" height="21.50" fill="#cf4d53"/>
<rect x="1108.15" y="553.00" width="0.9" height="6.20" fill="#cf4d53" opacity="0.75"/>
<rect x="1107.85" y="554.00" width="1.5" height="4.20" fill="#cf4d53"/>
<rect x="1110.15" y="553.00" width="0.9" height="10.30" fill="#cf4d53" opacity="0.75"/>
<rect x="1109.85" y="554.00" width="1.5" height="8.30" fill="#cf4d53"/>
<rect x="1112.15" y="549.00" width="0.9" height="14.30" fill="#358e77" opacity="0.75"/>
<rect x="1111.85" y="550.00" width="1.5" height="12.30" fill="#358e77"/>
<rect x="1114.15" y="546.40" width="0.9" height="10.10" fill="#358e77" opacity="0.75"/>
<rect x="1113.85" y="547.40" width="1.5" height="8.10" fill="#358e77"/>
<rect x="1116.15" y="541.00" width="0.9" height="10.00" fill="#358e77" opacity="0.75"/>
<rect x="1115.85" y="542.00" width="1.5" height="8.00" fill="#358e77"/>
<rect x="1117.85" y="539.70" width="0.9" height="6.00" fill="#cf4d53" opacity="0.75"/>
<rect x="1117.55" y="540.70" width="1.5" height="4.00" fill="#cf4d53"/>
<rect x="1119.15" y="492.50" width="0.9" height="51.90" fill="#358e77" opacity="0.75"/>
<rect x="1118.85" y="493.50" width="1.5" height="49.90" fill="#358e77"/>
<rect x="1121.05" y="492.60" width="0.9" height="10.10" fill="#cf4d53" opacity="0.75"/>
<rect x="1120.75" y="493.60" width="1.5" height="8.10" fill="#cf4d53"/>
<rect x="1123.05" y="480.50" width="0.9" height="14.10" fill="#358e77" opacity="0.75"/>
<rect x="1122.75" y="481.50" width="1.5" height="12.10" fill="#358e77"/>
<rect x="1125.05" y="481.80" width="0.9" height="10.20" fill="#cf4d53" opacity="0.75"/>
<rect x="1124.75" y="482.80" width="1.5" height="8.20" fill="#cf4d53"/>
<rect x="1127.05" y="484.50" width="0.9" height="8.80" fill="#cf4d53" opacity="0.75"/>
<rect x="1126.75" y="485.50" width="1.5" height="6.80" fill="#cf4d53"/>
<rect x="1129.15" y="482.00" width="0.9" height="21.00" fill="#358e77" opacity="0.75"/>
<rect x="1128.85" y="482.80" width="1.5" height="9.50" fill="#358e77"/>
<rect x="1130.85" y="423.50" width="0.9" height="61.50" fill="#358e77" opacity="0.75"/>
<rect x="1130.55" y="427.50" width="1.5" height="56.70" fill="#358e77"/>
<rect x="1132.75" y="429.20" width="0.9" height="18.20" fill="#cf4d53" opacity="0.75"/>
<rect x="1132.45" y="430.20" width="1.5" height="16.20" fill="#cf4d53"/>
<rect x="1134.95" y="444.00" width="0.9" height="7.50" fill="#cf4d53" opacity="0.75"/>
<rect x="1134.65" y="445.00" width="1.5" height="5.50" fill="#cf4d53"/>
<rect x="1136.55" y="444.00" width="0.9" height="10.50" fill="#cf4d53" opacity="0.75"/>
<rect x="1136.25" y="445.00" width="1.5" height="5.50" fill="#cf4d53"/>
<rect x="1138.15" y="430.00" width="0.9" height="20.00" fill="#358e77" opacity="0.75"/>
<rect x="1137.85" y="441.00" width="1.5" height="8.00" fill="#358e77"/>
<rect x="1139.45" y="441.40" width="0.9" height="26.20" fill="#cf4d53" opacity="0.75"/>
<rect x="1139.15" y="442.40" width="1.5" height="24.20" fill="#cf4d53"/>
<rect x="1141.25" y="463.00" width="0.9" height="8.70" fill="#cf4d53" opacity="0.75"/>
<rect x="1140.95" y="464.00" width="1.5" height="6.70" fill="#cf4d53"/>
<rect x="1143.05" y="469.70" width="0.9" height="19.50" fill="#cf4d53" opacity="0.75"/>
<rect x="1142.75" y="470.70" width="1.5" height="17.50" fill="#cf4d53"/>
<rect x="1144.85" y="484.50" width="0.9" height="4.70" fill="#cf4d53" opacity="0.75"/>
<rect x="1144.55" y="485.50" width="1.5" height="2.70" fill="#cf4d53"/>
<rect x="1146.65" y="484.50" width="0.9" height="6.10" fill="#358e77" opacity="0.75"/>
<rect x="1146.35" y="485.50" width="1.5" height="4.10" fill="#358e77"/>
<rect x="1148.35" y="485.00" width="0.9" height="12.70" fill="#cf4d53" opacity="0.75"/>
<rect x="1148.05" y="485.50" width="1.5" height="6.80" fill="#cf4d53"/>
<rect x="1150.05" y="480.00" width="0.9" height="23.00" fill="#358e77" opacity="0.75"/>
<rect x="1149.75" y="481.50" width="1.5" height="9.50" fill="#358e77"/>
<rect x="1151.65" y="476.40" width="0.9" height="10.10" fill="#358e77" opacity="0.75"/>
<rect x="1151.35" y="477.40" width="1.5" height="8.10" fill="#358e77"/>
<rect x="1153.35" y="468.30" width="0.9" height="10.10" fill="#358e77" opacity="0.75"/>
<rect x="1153.05" y="469.30" width="1.5" height="8.10" fill="#358e77"/>
<rect x="1155.15" y="468.30" width="0.9" height="6.10" fill="#cf4d53" opacity="0.75"/>
<rect x="1154.85" y="469.30" width="1.5" height="4.10" fill="#cf4d53"/>
<rect x="1156.75" y="465.30" width="0.9" height="9.70" fill="#cf4d53" opacity="0.75"/>
<rect x="1156.45" y="469.30" width="1.5" height="5.40" fill="#cf4d53"/>
<rect x="1158.35" y="472.40" width="0.9" height="7.40" fill="#cf4d53" opacity="0.75"/>
<rect x="1158.05" y="473.40" width="1.5" height="5.40" fill="#cf4d53"/>
<rect x="1160.15" y="475.00" width="0.9" height="24.00" fill="#cf4d53" opacity="0.75"/>
<rect x="1159.85" y="476.00" width="1.5" height="15.00" fill="#cf4d53"/>
<rect x="1162.15" y="477.80" width="0.9" height="6.00" fill="#358e77" opacity="0.75"/>
<rect x="1161.85" y="478.80" width="1.5" height="4.00" fill="#358e77"/>
<rect x="1164.15" y="464.00" width="0.9" height="19.00" fill="#cf4d53" opacity="0.75"/>
<rect x="1163.85" y="476.00" width="1.5" height="6.80" fill="#cf4d53"/>
<rect x="1166.15" y="465.60" width="0.9" height="18.20" fill="#358e77" opacity="0.75"/>
<rect x="1165.85" y="466.60" width="1.5" height="16.20" fill="#358e77"/>
<rect x="1167.85" y="454.90" width="0.9" height="15.40" fill="#358e77" opacity="0.75"/>
<rect x="1167.55" y="455.90" width="1.5" height="13.40" fill="#358e77"/>
<rect x="1169.55" y="448.00" width="0.9" height="11.60" fill="#358e77" opacity="0.75"/>
<rect x="1169.25" y="449.00" width="1.5" height="9.60" fill="#358e77"/>
<rect x="1171.35" y="441.40" width="0.9" height="10.10" fill="#358e77" opacity="0.75"/>
<rect x="1171.05" y="442.40" width="1.5" height="8.10" fill="#358e77"/>
<rect x="1172.95" y="433.30" width="0.9" height="11.40" fill="#358e77" opacity="0.75"/>
<rect x="1172.65" y="434.30" width="1.5" height="9.40" fill="#358e77"/>
<rect x="1174.55" y="422.50" width="0.9" height="14.10" fill="#358e77" opacity="0.75"/>
<rect x="1174.25" y="423.50" width="1.5" height="12.10" fill="#358e77"/>
<rect x="1175.95" y="377.50" width="0.9" height="48.50" fill="#358e77" opacity="0.75"/>
<rect x="1175.65" y="386.00" width="1.5" height="39.50" fill="#358e77"/>
<rect x="1177.45" y="380.00" width="0.9" height="8.80" fill="#cf4d53" opacity="0.75"/>
<rect x="1177.15" y="381.00" width="1.5" height="6.80" fill="#cf4d53"/>
<rect x="1179.15" y="359.30" width="0.9" height="24.30" fill="#358e77" opacity="0.75"/>
<rect x="1178.85" y="360.30" width="1.5" height="22.30" fill="#358e77"/>
<rect x="1180.85" y="341.50" width="0.9" height="68.50" fill="#cf4d53" opacity="0.75"/>
<rect x="1180.55" y="360.30" width="1.5" height="8.70" fill="#cf4d53"/>
<rect x="1183.05" y="354.00" width="0.9" height="9.00" fill="#358e77" opacity="0.75"/>
<rect x="1182.75" y="355.00" width="1.5" height="7.00" fill="#358e77"/>
<rect x="1184.75" y="327.70" width="0.9" height="30.30" fill="#358e77" opacity="0.75"/>
<rect x="1184.45" y="336.30" width="1.5" height="20.70" fill="#358e77"/>
<rect x="1185.95" y="335.30" width="0.9" height="20.70" fill="#cf4d53" opacity="0.75"/>
<rect x="1185.65" y="336.30" width="1.5" height="18.70" fill="#cf4d53"/>
<rect x="1187.75" y="354.00" width="0.9" height="17.60" fill="#cf4d53" opacity="0.75"/>
<rect x="1187.45" y="355.00" width="1.5" height="15.60" fill="#cf4d53"/>
<rect x="1189.95" y="370.00" width="0.9" height="33.20" fill="#cf4d53" opacity="0.75"/>
<rect x="1189.65" y="370.60" width="1.5" height="22.40" fill="#cf4d53"/>
<rect x="1191.15" y="325.00" width="0.9" height="69.00" fill="#358e77" opacity="0.75"/>
<rect x="1190.85" y="326.00" width="1.5" height="67.00" fill="#358e77"/>
<rect x="1192.85" y="303.70" width="0.9" height="23.30" fill="#358e77" opacity="0.75"/>
<rect x="1192.55" y="310.60" width="1.5" height="15.40" fill="#358e77"/>
<rect x="1194.55" y="309.60" width="0.9" height="12.30" fill="#cf4d53" opacity="0.75"/>
<rect x="1194.25" y="310.60" width="1.5" height="10.30" fill="#cf4d53"/>
<rect x="1195.75" y="297.00" width="0.9" height="23.00" fill="#cf4d53" opacity="0.75"/>
<rect x="1195.45" y="307.00" width="1.5" height="12.00" fill="#cf4d53"/>
<rect x="1197.15" y="220.00" width="0.9" height="86.00" fill="#358e77" opacity="0.75"/>
<rect x="1196.85" y="221.00" width="1.5" height="84.00" fill="#358e77"/>
<rect x="1198.55" y="216.00" width="0.9" height="8.00" fill="#358e77" opacity="0.75"/>
<rect x="1198.25" y="217.00" width="1.5" height="6.00" fill="#358e77"/>
<rect x="1200.35" y="167.00" width="0.9" height="64.70" fill="#cf4d53" opacity="0.75"/>
<rect x="1200.05" y="188.00" width="1.5" height="12.40" fill="#cf4d53"/>
<rect x="1202.65" y="16.00" width="0.9" height="185.00" fill="#358e77" opacity="0.75"/>
<rect x="1202.35" y="64.00" width="1.5" height="136.00" fill="#358e77"/>
<rect x="1205.35" y="17.00" width="0.9" height="48.00" fill="#358e77" opacity="0.75"/>
<rect x="1205.05" y="40.00" width="1.5" height="24.00" fill="#358e77"/>
<rect x="1207.55" y="0.50" width="0.9" height="56.50" fill="#358e77" opacity="0.75"/>
<rect x="1207.25" y="1.50" width="1.5" height="54.50" fill="#358e77"/>
<rect x="1211.45" y="0.50" width="0.9" height="6.00" fill="#cf4d53" opacity="0.75"/>
<rect x="1211.15" y="1.50" width="1.5" height="4.00" fill="#cf4d53"/>
<rect x="1216.55" y="11.00" width="0.9" height="33.00" fill="#cf4d53" opacity="0.75"/>
<rect x="1216.25" y="12.00" width="1.5" height="25.00" fill="#cf4d53"/>
<rect x="1218.25" y="0.50" width="0.9" height="37.50" fill="#358e77" opacity="0.75"/>
<rect x="1217.95" y="1.50" width="1.5" height="35.50" fill="#358e77"/>
<rect x="1224.75" y="0.50" width="0.9" height="28.50" fill="#cf4d53" opacity="0.75"/>
<rect x="1224.45" y="1.50" width="1.5" height="26.50" fill="#cf4d53"/>
<rect x="1226.85" y="22.00" width="0.9" height="18.00" fill="#358e77" opacity="0.75"/>
<rect x="1226.55" y="22.00" width="1.5" height="4.00" fill="#358e77"/>
<rect x="1229.05" y="0.50" width="0.9" height="26.50" fill="#358e77" opacity="0.75"/>
<rect x="1228.75" y="1.50" width="1.5" height="24.50" fill="#358e77"/>
</g>
<g font-size="7.8" fill="#2a2e39" stroke="#2a2e39" stroke-width="0.2">
<text x="1245.8" y="45.46">124.00</text>
<text x="1245.8" y="67.72">119.00</text>
<text x="1245.8" y="90.93">114.00</text>
<text x="1245.8" y="115.18">109.00</text>
<text x="1245.8" y="145.80">103.00</text>
<text x="1245.8" y="167.22">99.00</text>
<text x="1245.8" y="189.52">95.00</text>
<text x="1245.8" y="212.78">91.00</text>
<text x="1245.8" y="237.09">87.00</text>
<text x="1245.8" y="262.54">83.00</text>
<text x="1245.8" y="289.25">79.00</text>
<text x="1245.8" y="317.35">75.00</text>
<text x="1245.8" y="346.98">71.00</text>
<text x="1245.8" y="378.34">67.00</text>
<text x="1245.8" y="403.11">64.00</text>
<text x="1245.8" y="429.07">61.00</text>
<text x="1245.8" y="456.34">58.00</text>
<text x="1245.8" y="485.06">55.00</text>
<text x="1245.8" y="515.39">52.00</text>
<text x="1245.8" y="536.60">50.00</text>
<text x="1245.8" y="558.68">48.00</text>
<text x="1245.8" y="581.69">46.00</text>
<text x="1245.8" y="605.73">44.00</text>
<text x="1245.8" y="630.88">42.00</text>
<text x="1245.8" y="657.27">40.00</text>
<text x="1245.8" y="677.93">38.50</text>
<text x="1245.8" y="700.89">36.90</text>
<text x="1245.8" y="721.80">35.50</text>
<text x="1245.8" y="743.56">34.10</text>
<text x="1245.8" y="764.58">32.80</text>
<text x="1245.8" y="786.45">31.50</text>
</g>
<g font-size="7.8" fill="#2a2e39" stroke="#2a2e39" stroke-width="0.2">
<text x="693.3" y="811" text-anchor="middle">13</text>
<text x="734.3" y="811" text-anchor="middle">17</text>
<text x="774.8" y="811" text-anchor="middle">21</text>
<text x="815.8" y="811" text-anchor="middle">25</text>
<text x="887.3" y="811" text-anchor="middle" font-weight="bold">Sep</text>
<text x="928.3" y="811" text-anchor="middle">5</text>
<text x="969.2" y="811" text-anchor="middle">9</text>
<text x="1010.4" y="811" text-anchor="middle">13</text>
<text x="1051.6" y="811" text-anchor="middle">17</text>
<text x="1092" y="811" text-anchor="middle">21</text>
<text x="1133.1" y="811" text-anchor="middle">25</text>
<text x="1194.4" y="811" text-anchor="middle" font-weight="bold">Oct</text>
<text x="1235.4" y="811" text-anchor="middle">5</text>
</g>

<!-- arrows -->
<g>
<path d="M40.5,641.6 Q76.55000000000001,609.4 114,607.6" fill="none" stroke="#4b5ae0" stroke-width="1.45" stroke-linecap="round"/><path d="M105.8,601.3 L114,607.6 L108.1,615.4" fill="none" stroke="#4b5ae0" stroke-width="1.45" stroke-linecap="round" stroke-linejoin="round"/>
<path d="M164.9,552.5 Q184.64999999999998,533.95 218.2,528" fill="none" stroke="#4b5ae0" stroke-width="1.45" stroke-linecap="round"/><path d="M209.6,522.4 L218.2,528 L212.9,535.7" fill="none" stroke="#4b5ae0" stroke-width="1.45" stroke-linecap="round" stroke-linejoin="round"/>
<path d="M271.7,516.5 Q308.05,491.2 352.2,489.1" fill="none" stroke="#4b5ae0" stroke-width="1.45" stroke-linecap="round"/><path d="M344.8,482.5 L352.2,489.1 L345.5,496.6" fill="none" stroke="#4b5ae0" stroke-width="1.45" stroke-linecap="round" stroke-linejoin="round"/>
<path d="M336.1,605.2 Q370.15,601.25 394.4,563.1" fill="none" stroke="#4b5ae0" stroke-width="1.45" stroke-linecap="round"/><path d="M384.9,566.5 L394.4,563.1 L397.4,572.5" fill="none" stroke="#4b5ae0" stroke-width="1.45" stroke-linecap="round" stroke-linejoin="round"/>
<path d="M244.7,662.3 Q282.85,657.2 319.6,634.1" fill="none" stroke="#4b5ae0" stroke-width="1.45" stroke-linecap="round"/><path d="M310.4,631.5 L319.6,634.1 L317.8,643.4" fill="none" stroke="#4b5ae0" stroke-width="1.45" stroke-linecap="round" stroke-linejoin="round"/>
<path d="M77.3,727.1 Q133.25,728.5 186.2,702.7" fill="none" stroke="#4b5ae0" stroke-width="1.45" stroke-linecap="round"/><path d="M176.4,699.3 L186.2,702.7 L183.3,711.5" fill="none" stroke="#4b5ae0" stroke-width="1.45" stroke-linecap="round" stroke-linejoin="round"/>
<path d="M751.2,603.4 Q789.05,561.5 837.1,560" fill="none" stroke="#4b5ae0" stroke-width="1.45" stroke-linecap="round"/><path d="M829.4,554 L837.1,560 L831.1,567.8" fill="none" stroke="#4b5ae0" stroke-width="1.45" stroke-linecap="round" stroke-linejoin="round"/>
<path d="M729.1,735.2 Q765,748.45 800.9,721.9" fill="none" stroke="#4b5ae0" stroke-width="1.45" stroke-linecap="round"/><path d="M791.4,720.5 L800.9,721.9 L799.8,731.7" fill="none" stroke="#4b5ae0" stroke-width="1.45" stroke-linecap="round" stroke-linejoin="round"/>
<path d="M874.9,682.2 Q908.3,696.9 969.7,654.8" fill="none" stroke="#4b5ae0" stroke-width="1.45" stroke-linecap="round"/><path d="M960.2,652.1 L969.7,654.8 L967,664.3" fill="none" stroke="#4b5ae0" stroke-width="1.45" stroke-linecap="round" stroke-linejoin="round"/>
<path d="M957.4,518 Q982.6,486.5 1048.3,466.1" fill="none" stroke="#4b5ae0" stroke-width="1.45" stroke-linecap="round"/><path d="M1040.5,461 L1048.3,466.1 L1043.3,474.4" fill="none" stroke="#4b5ae0" stroke-width="1.45" stroke-linecap="round" stroke-linejoin="round"/>
<path d="M1089.3,587.7 Q1120.3,584.3 1162.4,550.6" fill="none" stroke="#4b5ae0" stroke-width="1.45" stroke-linecap="round"/><path d="M1152.8,548.4 L1162.4,550.6 L1160.5,559.9" fill="none" stroke="#4b5ae0" stroke-width="1.45" stroke-linecap="round" stroke-linejoin="round"/>
<path d="M1103.1,439.6 Q1133.5,406.0 1161.1,398.4" fill="none" stroke="#4b5ae0" stroke-width="1.45" stroke-linecap="round"/><path d="M1152.5,393.6 L1161.1,398.4 L1156,406.5" fill="none" stroke="#4b5ae0" stroke-width="1.45" stroke-linecap="round" stroke-linejoin="round"/>
<path d="M1163.2,517.1 Q1183.4,509.4 1198,472.9" fill="none" stroke="#4b5ae0" stroke-width="1.45" stroke-linecap="round"/><path d="M1190.3,477.7 L1198,472.9 L1203.7,479.4" fill="none" stroke="#4b5ae0" stroke-width="1.45" stroke-linecap="round" stroke-linejoin="round"/>
<circle cx="1076.7" cy="449.4" r="0.9" fill="#6b78c8"/>
</g>

<!-- ===== LEFT HEADER ===== -->
<g>
  <circle cx="13.5" cy="9" r="2.7" fill="none" stroke="#3a8f94" stroke-width="1.4"/>
  <circle cx="9" cy="13.2" r="4" fill="#2a0d4a"/>
  <circle cx="9.2" cy="13.2" r="1.5" fill="#9a6ad0"/>
  <g font-size="10.6" fill="#131722" stroke="#131722" stroke-width="0.3">
  <text x="20.1" y="15.8" textLength="23.7" lengthAdjust="spacingAndGlyphs">STRK</text>
  <text x="48.1" y="15.8">/</text>
  <text x="56.5" y="15.8" textLength="43.1" lengthAdjust="spacingAndGlyphs">TetherUS</text>
  <text x="103.1" y="15.8" text-anchor="middle">·</text>
  <text x="107.6" y="15.8" textLength="11.7" lengthAdjust="spacingAndGlyphs">4h</text>
  <text x="123.3" y="15.8" text-anchor="middle">·</text>
  <text x="127.4" y="15.8" textLength="37.7" lengthAdjust="spacingAndGlyphs">Binance</text>
  </g>
  <circle cx="176.4" cy="11.7" r="5" fill="#e4f3ee"/>
  <circle cx="176.4" cy="11.7" r="2.6" fill="#3e9c85"/>
  <g font-size="9" fill="#56a08d">
  <text x="187.9" y="14.7" textLength="32.6" lengthAdjust="spacingAndGlyphs"><tspan fill="#2a2e39" stroke="#2a2e39" stroke-width="0.35">O</tspan>0.1856</text>
  <text x="225.4" y="14.7" textLength="32.6" lengthAdjust="spacingAndGlyphs"><tspan fill="#2a2e39" stroke="#2a2e39" stroke-width="0.35">H</tspan>0.2098</text>
  <text x="261.7" y="14.7" textLength="31.6" lengthAdjust="spacingAndGlyphs"><tspan fill="#2a2e39" stroke="#2a2e39" stroke-width="0.35">L</tspan>0.1850</text>
  <text x="297.2" y="14.7" textLength="32.7" lengthAdjust="spacingAndGlyphs"><tspan fill="#2a2e39" stroke="#2a2e39" stroke-width="0.35">C</tspan>0.2020</text>
  <text x="333.6" y="14.7" textLength="30.6" lengthAdjust="spacingAndGlyphs">+0.0164</text>
  <text x="367" y="14.7" textLength="32.9" lengthAdjust="spacingAndGlyphs">(+8.84%)</text>
  </g>

  <rect x="4.8" y="23.2" width="40.6" height="21.6" rx="3" fill="#fff" stroke="#f0acae" stroke-width="1.1"/>
  <text x="25.3" y="31.6" font-size="8.6" fill="#d9555b" stroke="#d9555b" stroke-width="0.3" text-anchor="middle">0.2020</text>
  <text x="25.3" y="41.2" font-size="7.6" fill="#de7479" text-anchor="middle">SELL</text>
  <text x="51.5" y="36.4" font-size="7.2" fill="#131722" textLength="19.6" lengthAdjust="spacingAndGlyphs">0.0001</text>
  <rect x="77.6" y="23.2" width="40.8" height="21.6" rx="3" fill="#fff" stroke="#b0b3ee" stroke-width="1.1"/>
  <text x="98" y="31.6" font-size="8.6" fill="#5a68dc" stroke="#5a68dc" stroke-width="0.3" text-anchor="middle">0.2021</text>
  <text x="98" y="41.2" font-size="7.6" fill="#7f8ae0" text-anchor="middle">BUY</text>

  <rect x="4.8" y="50.2" width="20.4" height="14" rx="1" fill="#fff" stroke="#e4e5e8" stroke-width="1"/>
  <path d="M9.6 56.2 L11.8 58.2 L14 56.2" fill="none" stroke="#131722" stroke-width="1.1"/>
  <text x="18.2" y="60.2" font-size="8.6" fill="#131722">7</text>
</g>
<!-- left price-axis currency -->
<rect x="615.5" y="4.2" width="44.5" height="16.8" rx="2.5" fill="#fcfcfc" stroke="#efefef" stroke-width="0.8"/>
<text x="618.5" y="15.5" font-size="7.6" fill="#2a2e39" stroke="#2a2e39" stroke-width="0.1" textLength="18.4" lengthAdjust="spacingAndGlyphs">USDT</text>
<path d="M653.8 11.7 L655.5 13.3 L657.2 11.7" fill="none" stroke="#2a2e39" stroke-width="1.3"/>

<!-- last price labels -->
<rect x="563.4" y="552.2" width="49.5" height="14" rx="1.5" fill="#3d9b84"/>
<text x="566.6" y="562.7" font-size="8.8" fill="#ffffff" stroke="#ffffff" stroke-width="0.25" textLength="41.4" lengthAdjust="spacingAndGlyphs">STRKUSDT</text>
<rect x="614" y="552.2" width="46.2" height="24.8" rx="1.5" fill="#3d9b84"/>
<text x="619.9" y="562.8" font-size="9.6" fill="#ffffff">0.2020</text>
<text x="619.9" y="574" font-size="9.6" fill="#ffffff">02:57:19</text>

<!-- TV logo -->
<g fill="#131722">
  <path d="M7.2 777.3 H16.2 V786.8 H12.2 V781.2 H7.2 Z"/>
  <circle cx="18.4" cy="779.3" r="2"/>
  <path d="M22.3 777.3 H27.8 L23.6 786.8 H19 Z"/>
</g>
<!-- gear/settings icon bottom -->
<g fill="none" stroke="#2a2e39" stroke-width="1">
  <path d="M634.1 807.3 L636.4 803.5 L640.8 803.5 L643.1 807.3 L640.8 811.1 L636.4 811.1 Z"/>
  <circle cx="638.6" cy="807.3" r="1.5"/>
</g>

<!-- ===== RIGHT HEADER ===== -->
<g>
  <circle cx="678.5" cy="9" r="2.6" fill="none" stroke="#2d8c98" stroke-width="1.3"/>
  <circle cx="674" cy="13.6" r="3.8" fill="#f0b43a"/>
  <rect x="673.3" y="11.2" width="1.5" height="5" fill="#5a3c05"/>
  <g font-size="10.4" fill="#131722" stroke="#131722" stroke-width="0.3">
  <text x="685.2" y="15.8" textLength="42.3" lengthAdjust="spacingAndGlyphs">ZECUSDT</text>
  <text x="731.8" y="15.8" textLength="46.1" lengthAdjust="spacingAndGlyphs">Perpetual</text>
  <text x="781.7" y="15.8" textLength="41.6" lengthAdjust="spacingAndGlyphs">Contract</text>
  <text x="827.4" y="15.8" text-anchor="middle">·</text>
  <text x="831.5" y="15.8" textLength="11.6" lengthAdjust="spacingAndGlyphs">4h</text>
  <text x="847.2" y="15.8" text-anchor="middle">·</text>
  <text x="851.7" y="15.8" textLength="24" lengthAdjust="spacingAndGlyphs">Bybit</text>
  </g>
  <path d="M884.2 8.9 H891.7 L889.4 12 L891.7 15.2 H884.2 Z" fill="#3d6ef0"/>
  <circle cx="907" cy="11.3" r="4.2" fill="#e2f2ec"/>
  <circle cx="907" cy="11.3" r="2.2" fill="#3e9c85"/>
  <g font-size="8.6" fill="#56a08d">
  <text x="917.8" y="14.4" textLength="32.7" lengthAdjust="spacingAndGlyphs"><tspan fill="#2a2e39" stroke="#2a2e39" stroke-width="0.35">O</tspan>579.24</text>
  <text x="954.8" y="14.4" textLength="32.5" lengthAdjust="spacingAndGlyphs"><tspan fill="#2a2e39" stroke="#2a2e39" stroke-width="0.35">H</tspan>612.69</text>
  <text x="991.6" y="14.4" textLength="30.9" lengthAdjust="spacingAndGlyphs"><tspan fill="#2a2e39" stroke="#2a2e39" stroke-width="0.35">L</tspan>574.73</text>
  <text x="1026.7" y="14.4" textLength="32.8" lengthAdjust="spacingAndGlyphs"><tspan fill="#2a2e39" stroke="#2a2e39" stroke-width="0.35">C</tspan>610.17</text>
  <text x="1063.8" y="14.4" textLength="25.7" lengthAdjust="spacingAndGlyphs">+30.93</text>
  <text x="1092.6" y="14.4" textLength="32.5" lengthAdjust="spacingAndGlyphs">(+5.34%)</text>
  </g>

  <rect x="669.8" y="23.2" width="40.6" height="21.6" rx="3" fill="#fff" stroke="#f0acae" stroke-width="1.1"/>
  <text x="690.1" y="31.8" font-size="8.6" fill="#d9555b" stroke="#d9555b" stroke-width="0.3" text-anchor="middle">610.21</text>
  <text x="690.1" y="41.2" font-size="7.6" fill="#de7479" text-anchor="middle">SELL</text>
  <text x="716.2" y="36.4" font-size="7.2" fill="#131722" textLength="12.8" lengthAdjust="spacingAndGlyphs">0.05</text>
  <rect x="735.6" y="23.2" width="40" height="21.6" rx="3" fill="#fff" stroke="#b0b3ee" stroke-width="1.1"/>
  <text x="755.6" y="31.8" font-size="8.6" fill="#5a68dc" stroke="#5a68dc" stroke-width="0.3" text-anchor="middle">610.26</text>
  <text x="755.6" y="41.2" font-size="7.6" fill="#7f8ae0" text-anchor="middle">BUY</text>

  <rect x="670" y="50.2" width="20.4" height="14" rx="1" fill="#fff" stroke="#e4e5e8" stroke-width="1"/>
  <path d="M673.9 56.2 L676.1 58.2 L678.3 56.2" fill="none" stroke="#131722" stroke-width="1.1"/>
  <text x="682.6" y="60.2" font-size="8.6" fill="#131722">7</text>
</g>
<rect x="1241.8" y="4" width="40" height="17.2" rx="2.5" fill="#fcfcfc" stroke="#efefef" stroke-width="0.8"/>
<text x="1244.6" y="15.4" font-size="7.6" fill="#2a2e39" stroke="#2a2e39" stroke-width="0.1" textLength="18.7" lengthAdjust="spacingAndGlyphs">USDT</text>
<path d="M1274.4 11.7 L1276.1 13.3 L1277.8 11.7" fill="none" stroke="#2a2e39" stroke-width="1.3"/>

<!-- ===== LEFT PANEL BORDER ===== -->
<path d="M0 1.9 H659.3 Q662.5 1.9 662.5 5.1" fill="none" stroke="#4e5052" stroke-width="1.4"/>
<rect x="661.9" y="5" width="1.2" height="811" fill="#2e2e2e"/>
<rect x="0" y="1.2" width="1.05" height="815" fill="#6e6e6e"/>
</svg>
</body></html>
